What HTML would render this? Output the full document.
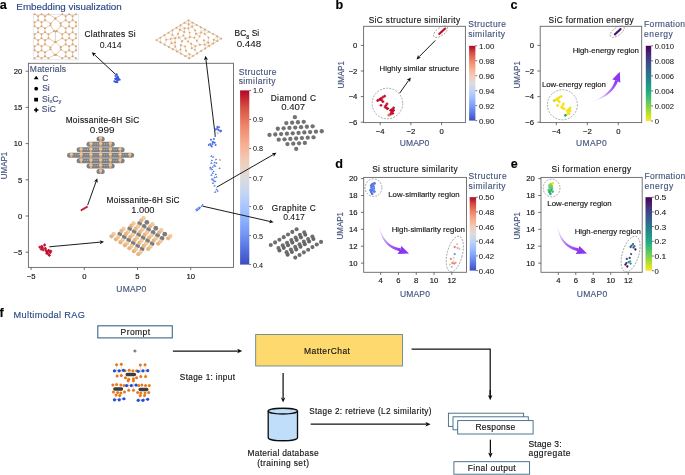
<!DOCTYPE html>
<html><head><meta charset="utf-8"><style>
html,body{margin:0;padding:0;background:#fff;width:685px;height:475px;overflow:hidden}
svg{display:block;opacity:0.999}
text{font-family:"Liberation Sans", sans-serif}
</style></head><body>
<svg width="685" height="475" viewBox="0 0 685 475" font-family='"Liberation Sans", sans-serif'><defs><linearGradient id="gcw" x1="0" y1="0" x2="0" y2="1"><stop offset="0.000" stop-color="#b40426"/><stop offset="0.100" stop-color="#d65244"/><stop offset="0.200" stop-color="#ee8468"/><stop offset="0.300" stop-color="#f7ac8e"/><stop offset="0.400" stop-color="#f2cbb7"/><stop offset="0.500" stop-color="#dddcdc"/><stop offset="0.600" stop-color="#c0d4f5"/><stop offset="0.700" stop-color="#9ebeff"/><stop offset="0.800" stop-color="#7b9ff9"/><stop offset="0.900" stop-color="#5977e3"/><stop offset="1.000" stop-color="#3b4cc0"/></linearGradient><linearGradient id="gvi" x1="0" y1="0" x2="0" y2="1"><stop offset="0.000" stop-color="#440154"/><stop offset="0.100" stop-color="#482475"/><stop offset="0.200" stop-color="#414487"/><stop offset="0.300" stop-color="#355f8d"/><stop offset="0.400" stop-color="#2a788e"/><stop offset="0.500" stop-color="#21918c"/><stop offset="0.600" stop-color="#22a884"/><stop offset="0.700" stop-color="#44bf70"/><stop offset="0.800" stop-color="#7ad151"/><stop offset="0.900" stop-color="#bddf26"/><stop offset="1.000" stop-color="#fde725"/></linearGradient>
<linearGradient id="gpa" gradientUnits="userSpaceOnUse" x1="592" y1="101" x2="616" y2="81"><stop offset="0" stop-color="#f3e8ff" stop-opacity="0.2"/><stop offset="0.5" stop-color="#c08cfa"/><stop offset="1" stop-color="#8c35f2"/></linearGradient>
<linearGradient id="gpd" gradientUnits="userSpaceOnUse" x1="379" y1="224" x2="400" y2="250"><stop offset="0" stop-color="#f3e8ff" stop-opacity="0.2"/><stop offset="0.5" stop-color="#c08cfa"/><stop offset="1" stop-color="#8c35f2"/></linearGradient>
<linearGradient id="gpe" gradientUnits="userSpaceOnUse" x1="557" y1="224" x2="578" y2="250"><stop offset="0" stop-color="#f3e8ff" stop-opacity="0.2"/><stop offset="0.5" stop-color="#c08cfa"/><stop offset="1" stop-color="#8c35f2"/></linearGradient>
<filter id="soft" x="0" y="0" width="685" height="475" filterUnits="userSpaceOnUse"><feGaussianBlur stdDeviation="0.22"/></filter></defs><rect width="685" height="475" fill="#fff"/><g filter="url(#soft)"><text x="-0.30" y="9.40" font-size="12.6" fill="#000" stroke="#000" stroke-width="0.14" text-anchor="start" font-weight="bold" >a</text>
<text x="16.35" y="9.50" font-size="9.8" fill="#2a4786" stroke="#2a4786" stroke-width="0.14" font-weight="normal" textLength="105.40" lengthAdjust="spacing" >Embedding visualization</text>
<rect x="28.4" y="63.3" width="205.1" height="204.09999999999997" fill="none" stroke="#666" stroke-width="0.9"/>
<line x1="31.10" y1="267.40" x2="31.10" y2="270.00" stroke="#444" stroke-width="0.75" />
<text x="31.10" y="278.50" font-size="7.7" fill="#111111" stroke="#111111" stroke-width="0.14" text-anchor="middle" font-weight="normal" >&#8722;5</text>
<line x1="84.30" y1="267.40" x2="84.30" y2="270.00" stroke="#444" stroke-width="0.75" />
<text x="84.30" y="278.50" font-size="7.7" fill="#111111" stroke="#111111" stroke-width="0.14" text-anchor="middle" font-weight="normal" >0</text>
<line x1="137.50" y1="267.40" x2="137.50" y2="270.00" stroke="#444" stroke-width="0.75" />
<text x="137.50" y="278.50" font-size="7.7" fill="#111111" stroke="#111111" stroke-width="0.14" text-anchor="middle" font-weight="normal" >5</text>
<line x1="190.70" y1="267.40" x2="190.70" y2="270.00" stroke="#444" stroke-width="0.75" />
<text x="190.70" y="278.50" font-size="7.7" fill="#111111" stroke="#111111" stroke-width="0.14" text-anchor="middle" font-weight="normal" >10</text>
<line x1="25.60" y1="71.20" x2="28.40" y2="71.20" stroke="#444" stroke-width="0.75" />
<text x="22.20" y="73.95" font-size="7.7" fill="#111111" stroke="#111111" stroke-width="0.14" text-anchor="end" font-weight="normal" >20</text>
<line x1="25.60" y1="107.40" x2="28.40" y2="107.40" stroke="#444" stroke-width="0.75" />
<text x="22.20" y="110.15" font-size="7.7" fill="#111111" stroke="#111111" stroke-width="0.14" text-anchor="end" font-weight="normal" >15</text>
<line x1="25.60" y1="143.60" x2="28.40" y2="143.60" stroke="#444" stroke-width="0.75" />
<text x="22.20" y="146.35" font-size="7.7" fill="#111111" stroke="#111111" stroke-width="0.14" text-anchor="end" font-weight="normal" >10</text>
<line x1="25.60" y1="179.80" x2="28.40" y2="179.80" stroke="#444" stroke-width="0.75" />
<text x="22.20" y="182.55" font-size="7.7" fill="#111111" stroke="#111111" stroke-width="0.14" text-anchor="end" font-weight="normal" >5</text>
<line x1="25.60" y1="216.00" x2="28.40" y2="216.00" stroke="#444" stroke-width="0.75" />
<text x="22.20" y="218.75" font-size="7.7" fill="#111111" stroke="#111111" stroke-width="0.14" text-anchor="end" font-weight="normal" >0</text>
<line x1="25.60" y1="252.20" x2="28.40" y2="252.20" stroke="#444" stroke-width="0.75" />
<text x="22.20" y="254.95" font-size="7.7" fill="#111111" stroke="#111111" stroke-width="0.14" text-anchor="end" font-weight="normal" >&#8722;5</text>
<text x="116.35" y="291.80" font-size="8.5" fill="#42527a" stroke="#42527a" stroke-width="0.14" font-weight="normal" textLength="29.90" lengthAdjust="spacing" >UMAP0</text>
<text x="0" y="0" font-size="8.5" fill="#42527a" stroke="#42527a" stroke-width="0.14" text-anchor="middle" textLength="27.4" lengthAdjust="spacingAndGlyphs" transform="translate(7.40,165.50) rotate(-90)">UMAP1</text>
<text x="29.85" y="71.80" font-size="8.5" fill="#42527a" stroke="#42527a" stroke-width="0.14" font-weight="normal" textLength="36.20" lengthAdjust="spacing" >Materials</text>
<polygon points="36.2,75.8 38.6,79.2 33.8,79.2" fill="#000"/>
<text x="42.20" y="80.50" font-size="8.5" fill="#42527a" stroke="#42527a" stroke-width="0.14" text-anchor="start" font-weight="normal" >C</text>
<circle cx="36.2" cy="88.7" r="1.9" fill="#000"/>
<text x="42.20" y="90.90" font-size="8.5" fill="#42527a" stroke="#42527a" stroke-width="0.14" text-anchor="start" font-weight="normal" >Si</text>
<rect x="34.2" y="97.8" width="3.8" height="3.7" fill="#000"/>
<text x="42.1" y="101.5" font-size="8.5" fill="#42527a" stroke="#42527a" stroke-width="0.14">S<tspan>i</tspan><tspan font-size="5.6" dy="1.9">x</tspan><tspan dy="-1.9" dx="-0.2">C</tspan><tspan font-size="5.6" dy="1.9">y</tspan></text>
<path d="M34,110h4.4M36.2,107.8v4.4" stroke="#000" stroke-width="1.5"/>
<text x="41.85" y="112.40" font-size="8.5" fill="#42527a" stroke="#42527a" stroke-width="0.14" font-weight="normal" textLength="14.10" lengthAdjust="spacing" >SiC</text>
<rect x="240.1" y="90.4" width="9.2" height="174.20000000000002" fill="url(#gcw)"/>
<line x1="249.30" y1="90.40" x2="251.10" y2="90.40" stroke="#333" stroke-width="0.7" />
<text x="252.95" y="93.40" font-size="7.4" fill="#111111" stroke="#111111" stroke-width="0.04" font-weight="normal" textLength="10.10" lengthAdjust="spacingAndGlyphs" >1.0</text>
<line x1="249.30" y1="119.43" x2="251.10" y2="119.43" stroke="#333" stroke-width="0.7" />
<text x="252.95" y="122.43" font-size="7.4" fill="#111111" stroke="#111111" stroke-width="0.04" font-weight="normal" textLength="10.10" lengthAdjust="spacingAndGlyphs" >0.9</text>
<line x1="249.30" y1="148.47" x2="251.10" y2="148.47" stroke="#333" stroke-width="0.7" />
<text x="252.95" y="151.47" font-size="7.4" fill="#111111" stroke="#111111" stroke-width="0.04" font-weight="normal" textLength="10.10" lengthAdjust="spacingAndGlyphs" >0.8</text>
<line x1="249.30" y1="177.50" x2="251.10" y2="177.50" stroke="#333" stroke-width="0.7" />
<text x="252.95" y="180.50" font-size="7.4" fill="#111111" stroke="#111111" stroke-width="0.04" font-weight="normal" textLength="10.10" lengthAdjust="spacingAndGlyphs" >0.7</text>
<line x1="249.30" y1="206.53" x2="251.10" y2="206.53" stroke="#333" stroke-width="0.7" />
<text x="252.95" y="209.53" font-size="7.4" fill="#111111" stroke="#111111" stroke-width="0.04" font-weight="normal" textLength="10.10" lengthAdjust="spacingAndGlyphs" >0.6</text>
<line x1="249.30" y1="235.57" x2="251.10" y2="235.57" stroke="#333" stroke-width="0.7" />
<text x="252.95" y="238.57" font-size="7.4" fill="#111111" stroke="#111111" stroke-width="0.04" font-weight="normal" textLength="10.10" lengthAdjust="spacingAndGlyphs" >0.5</text>
<line x1="249.30" y1="264.60" x2="251.10" y2="264.60" stroke="#333" stroke-width="0.7" />
<text x="252.95" y="267.60" font-size="7.4" fill="#111111" stroke="#111111" stroke-width="0.04" font-weight="normal" textLength="10.10" lengthAdjust="spacingAndGlyphs" >0.4</text>
<text x="238.65" y="75.00" font-size="8.5" fill="#42527a" stroke="#42527a" stroke-width="0.14" font-weight="normal" textLength="37.90" lengthAdjust="spacing" >Structure</text>
<text x="238.65" y="84.00" font-size="8.5" fill="#42527a" stroke="#42527a" stroke-width="0.14" font-weight="normal" textLength="36.80" lengthAdjust="spacing" >similarity</text>
<text x="84.45" y="37.20" font-size="8.3" fill="#111111" stroke="#111111" stroke-width="0.14" font-weight="normal" textLength="51.20" lengthAdjust="spacing" >Clathrates Si</text>
<text x="99.65" y="48.00" font-size="8.7" fill="#111111" stroke="#111111" stroke-width="0.04" font-weight="normal" textLength="21.90" lengthAdjust="spacingAndGlyphs" >0.414</text>
<text x="234.6" y="36.3" font-size="8.4" textLength="24.6" lengthAdjust="spacing" fill="#111111" stroke="#111111" stroke-width="0.14">BC<tspan font-size="5.4" dy="2.2">8</tspan><tspan dy="-2.2"> Si</tspan></text>
<text x="236.65" y="47.20" font-size="8.7" fill="#111111" stroke="#111111" stroke-width="0.04" font-weight="normal" textLength="24.60" lengthAdjust="spacingAndGlyphs" >0.448</text>
<text x="65.65" y="122.60" font-size="8.3" fill="#111111" stroke="#111111" stroke-width="0.14" font-weight="normal" textLength="73.50" lengthAdjust="spacing" >Moissanite-6H SiC</text>
<text x="89.75" y="132.70" font-size="8.7" fill="#111111" stroke="#111111" stroke-width="0.04" font-weight="normal" textLength="24.80" lengthAdjust="spacingAndGlyphs" >0.999</text>
<text x="106.45" y="203.20" font-size="8.3" fill="#111111" stroke="#111111" stroke-width="0.14" font-weight="normal" textLength="73.10" lengthAdjust="spacing" >Moissanite-6H SiC</text>
<text x="131.25" y="213.40" font-size="8.7" fill="#111111" stroke="#111111" stroke-width="0.04" font-weight="normal" textLength="23.30" lengthAdjust="spacingAndGlyphs" >1.000</text>
<text x="270.65" y="100.80" font-size="8.3" fill="#111111" stroke="#111111" stroke-width="0.14" font-weight="normal" textLength="45.30" lengthAdjust="spacing" >Diamond C</text>
<text x="281.15" y="110.10" font-size="8.7" fill="#111111" stroke="#111111" stroke-width="0.04" font-weight="normal" textLength="24.10" lengthAdjust="spacingAndGlyphs" >0.407</text>
<text x="271.85" y="210.70" font-size="8.3" fill="#111111" stroke="#111111" stroke-width="0.14" font-weight="normal" textLength="43.90" lengthAdjust="spacing" >Graphite C</text>
<text x="283.15" y="219.80" font-size="8.7" fill="#111111" stroke="#111111" stroke-width="0.04" font-weight="normal" textLength="21.60" lengthAdjust="spacingAndGlyphs" >0.417</text>
<line x1="115.80" y1="74.60" x2="94.50" y2="54.72" stroke="#111" stroke-width="0.95" />
<polygon points="91.80,52.20 96.24,53.60 94.29,54.52 93.51,56.53" fill="#111"/>
<line x1="215.20" y1="135.20" x2="205.95" y2="59.47" stroke="#111" stroke-width="0.95" />
<polygon points="205.50,55.80 207.99,59.73 205.91,59.17 204.02,60.21" fill="#111"/>
<line x1="216.70" y1="187.20" x2="273.19" y2="154.65" stroke="#111" stroke-width="0.95" />
<polygon points="276.40,152.80 273.76,156.63 273.45,154.50 271.76,153.16" fill="#111"/>
<line x1="202.80" y1="206.20" x2="269.99" y2="221.48" stroke="#111" stroke-width="0.95" />
<polygon points="273.60,222.30 269.06,223.32 270.28,221.55 269.95,219.42" fill="#111"/>
<line x1="87.60" y1="205.30" x2="96.05" y2="181.68" stroke="#111" stroke-width="0.95" />
<polygon points="97.30,178.20 97.77,182.83 96.15,181.40 94.00,181.48" fill="#111"/>
<line x1="49.30" y1="246.80" x2="100.32" y2="242.14" stroke="#111" stroke-width="0.95" />
<polygon points="104.00,241.80 100.00,244.17 100.61,242.11 99.64,240.19" fill="#111"/>
<circle cx="117.32" cy="82.28" r="1.0" fill="#3a5bd5"/>
<circle cx="115.99" cy="81.68" r="1.0" fill="#3a5bd5"/>
<circle cx="116.86" cy="78.80" r="1.0" fill="#3a5bd5"/>
<circle cx="119.67" cy="79.76" r="1.0" fill="#3a5bd5"/>
<circle cx="117.14" cy="81.08" r="1.0" fill="#3a5bd5"/>
<circle cx="118.66" cy="79.33" r="1.0" fill="#3a5bd5"/>
<circle cx="117.96" cy="77.16" r="1.0" fill="#3a5bd5"/>
<circle cx="116.72" cy="78.39" r="1.0" fill="#3a5bd5"/>
<circle cx="115.47" cy="75.93" r="1.0" fill="#3a5bd5"/>
<circle cx="115.09" cy="78.85" r="1.0" fill="#3a5bd5"/>
<circle cx="116.98" cy="78.66" r="1.0" fill="#3a5bd5"/>
<circle cx="117.29" cy="76.33" r="1.0" fill="#3a5bd5"/>
<circle cx="117.10" cy="79.95" r="1.0" fill="#3a5bd5"/>
<circle cx="118.18" cy="77.45" r="1.0" fill="#3a5bd5"/>
<circle cx="116.68" cy="74.77" r="1.0" fill="#3a5bd5"/>
<circle cx="116.55" cy="74.35" r="1.0" fill="#3a5bd5"/>
<circle cx="115.35" cy="81.93" r="1.0" fill="#3a5bd5"/>
<circle cx="114.34" cy="81.24" r="1.0" fill="#3a5bd5"/>
<circle cx="117.63" cy="78.68" r="1.0" fill="#3a5bd5"/>
<circle cx="117.80" cy="80.61" r="1.0" fill="#3a5bd5"/>
<circle cx="118.56" cy="78.87" r="1.0" fill="#3a5bd5"/>
<circle cx="116.43" cy="78.01" r="1.0" fill="#3a5bd5"/>
<circle cx="115.92" cy="79.30" r="1.0" fill="#3a5bd5"/>
<circle cx="116.18" cy="81.86" r="1.0" fill="#3a5bd5"/>
<circle cx="219.00" cy="127.20" r="1.0" fill="#4a6fe3"/>
<circle cx="217.30" cy="128.00" r="1.0" fill="#4a6fe3"/>
<circle cx="216.00" cy="129.30" r="1.0" fill="#4a6fe3"/>
<circle cx="218.10" cy="129.70" r="1.0" fill="#4a6fe3"/>
<circle cx="220.60" cy="131.40" r="1.0" fill="#4a6fe3"/>
<circle cx="219.40" cy="130.50" r="1.0" fill="#4a6fe3"/>
<circle cx="215.20" cy="129.70" r="1.0" fill="#4a6fe3"/>
<circle cx="217.50" cy="126.80" r="1.0" fill="#4a6fe3"/>
<circle cx="221.00" cy="130.80" r="1.0" fill="#4a6fe3"/>
<circle cx="215.20" cy="136.00" r="1.0" fill="#4a6fe3"/>
<circle cx="211.00" cy="139.80" r="1.0" fill="#4a6fe3"/>
<circle cx="213.90" cy="139.00" r="1.0" fill="#4a6fe3"/>
<circle cx="213.50" cy="142.30" r="1.0" fill="#4a6fe3"/>
<circle cx="214.70" cy="142.70" r="1.0" fill="#4a6fe3"/>
<circle cx="210.10" cy="144.00" r="1.0" fill="#4a6fe3"/>
<circle cx="208.80" cy="144.90" r="1.0" fill="#4a6fe3"/>
<circle cx="215.60" cy="144.90" r="1.0" fill="#4a6fe3"/>
<circle cx="211.80" cy="146.50" r="1.0" fill="#4a6fe3"/>
<circle cx="212.60" cy="141.90" r="1.0" fill="#4a6fe3"/>
<circle cx="211.00" cy="145.50" r="1.0" fill="#4a6fe3"/>
<circle cx="212.50" cy="144.00" r="1.0" fill="#4a6fe3"/>
<path d="M210.10,157.10L212.70,156.40L211.30,155.10Z" fill="#4a6fe3"/>
<path d="M211.90,158.00L214.50,157.30L213.10,156.00Z" fill="#4a6fe3"/>
<path d="M210.10,164.10L212.70,163.40L211.30,162.10Z" fill="#4a6fe3"/>
<path d="M213.30,163.50L215.90,162.80L214.50,161.50Z" fill="#4a6fe3"/>
<path d="M215.20,164.10L217.80,163.40L216.40,162.10Z" fill="#4a6fe3"/>
<path d="M208.90,168.50L211.50,167.80L210.10,166.50Z" fill="#4a6fe3"/>
<path d="M211.40,167.90L214.00,167.20L212.60,165.90Z" fill="#4a6fe3"/>
<path d="M213.90,167.30L216.50,166.60L215.10,165.30Z" fill="#4a6fe3"/>
<path d="M210.70,170.40L213.30,169.70L211.90,168.40Z" fill="#4a6fe3"/>
<path d="M218.30,169.20L220.90,168.50L219.50,167.20Z" fill="#4a6fe3"/>
<path d="M209.50,169.80L212.10,169.10L210.70,167.80Z" fill="#4a6fe3"/>
<path d="M211.40,174.20L214.00,173.50L212.60,172.20Z" fill="#4a6fe3"/>
<path d="M210.70,179.90L213.30,179.20L211.90,177.90Z" fill="#4a6fe3"/>
<path d="M213.30,178.60L215.90,177.90L214.50,176.60Z" fill="#4a6fe3"/>
<path d="M215.20,178.00L217.80,177.30L216.40,176.00Z" fill="#4a6fe3"/>
<path d="M212.60,181.80L215.20,181.10L213.80,179.80Z" fill="#4a6fe3"/>
<path d="M213.90,182.40L216.50,181.70L215.10,180.40Z" fill="#4a6fe3"/>
<path d="M211.50,180.70L214.10,180.00L212.70,178.70Z" fill="#4a6fe3"/>
<path d="M213.30,186.80L215.90,186.10L214.50,184.80Z" fill="#4a6fe3"/>
<path d="M215.20,190.60L217.80,189.90L216.40,188.60Z" fill="#4a6fe3"/>
<path d="M216.40,191.90L219.00,191.20L217.60,189.90Z" fill="#4a6fe3"/>
<path d="M213.90,193.10L216.50,192.40L215.10,191.10Z" fill="#4a6fe3"/>
<path d="M212.20,172.40L214.80,171.70L213.40,170.40Z" fill="#4a6fe3"/>
<path d="M210.20,176.10L212.80,175.40L211.40,174.10Z" fill="#4a6fe3"/>
<path d="M214.50,175.40L217.10,174.70L215.70,173.40Z" fill="#4a6fe3"/>
<path d="M211.70,184.10L214.30,183.40L212.90,182.10Z" fill="#4a6fe3"/>
<path d="M214.70,160.40L217.30,159.70L215.90,158.40Z" fill="#4a6fe3"/>
<path d="M210.50,161.40L213.10,160.70L211.70,159.40Z" fill="#4a6fe3"/>
<path d="M212.90,166.10L215.50,165.40L214.10,164.10Z" fill="#4a6fe3"/>
<path d="M195.00,210.20L197.60,209.50L196.20,208.20Z" fill="#4a6fe3"/>
<path d="M196.90,208.90L199.50,208.20L198.10,206.90Z" fill="#4a6fe3"/>
<path d="M198.70,208.30L201.30,207.60L199.90,206.30Z" fill="#4a6fe3"/>
<path d="M200.60,207.00L203.20,206.30L201.80,205.00Z" fill="#4a6fe3"/>
<path d="M201.30,205.80L203.90,205.10L202.50,203.80Z" fill="#4a6fe3"/>
<path d="M195.60,211.50L198.20,210.80L196.80,209.50Z" fill="#4a6fe3"/>
<path d="M198.10,209.60L200.70,208.90L199.30,207.60Z" fill="#4a6fe3"/>
<path d="M196.70,210.70L199.30,210.00L197.90,208.70Z" fill="#4a6fe3"/>
<path d="M216.5,133.1h2.6M217.8,131.9v2.4" stroke="#f4b79a" stroke-width="0.9"/>
<path d="M219.2,159.2l1.4,0.8M219.4,160.5l1.6,-0.6" stroke="#ef8a62" stroke-width="0.9"/>
<circle cx="81.60" cy="210.10" r="1.05" fill="#c3112d"/>
<circle cx="82.90" cy="209.30" r="1.05" fill="#c3112d"/>
<circle cx="84.20" cy="208.50" r="1.05" fill="#c3112d"/>
<circle cx="85.50" cy="207.80" r="1.05" fill="#c3112d"/>
<circle cx="86.80" cy="207.10" r="1.05" fill="#c3112d"/>
<path d="M38.40,247.10h2.8M39.80,245.70v2.8" stroke="#c3112d" stroke-width="1.3"/>
<path d="M40.40,246.40h2.8M41.80,245.00v2.8" stroke="#c3112d" stroke-width="1.3"/>
<path d="M43.20,245.00h2.8M44.60,243.60v2.8" stroke="#c3112d" stroke-width="1.3"/>
<path d="M39.80,249.10h2.8M41.20,247.70v2.8" stroke="#c3112d" stroke-width="1.3"/>
<path d="M41.80,249.80h2.8M43.20,248.40v2.8" stroke="#c3112d" stroke-width="1.3"/>
<path d="M43.90,248.40h2.8M45.30,247.00v2.8" stroke="#c3112d" stroke-width="1.3"/>
<path d="M44.60,250.50h2.8M46.00,249.10v2.8" stroke="#c3112d" stroke-width="1.3"/>
<path d="M45.90,251.80h2.8M47.30,250.40v2.8" stroke="#c3112d" stroke-width="1.3"/>
<path d="M47.30,250.50h2.8M48.70,249.10v2.8" stroke="#c3112d" stroke-width="1.3"/>
<path d="M48.70,252.50h2.8M50.10,251.10v2.8" stroke="#c3112d" stroke-width="1.3"/>
<path d="M46.60,253.90h2.8M48.00,252.50v2.8" stroke="#c3112d" stroke-width="1.3"/>
<path d="M48.00,255.30h2.8M49.40,253.90v2.8" stroke="#c3112d" stroke-width="1.3"/>
<path d="M45.20,253.20h2.8M46.60,251.80v2.8" stroke="#c3112d" stroke-width="1.3"/>
<path d="M49.40,251.20h2.8M50.80,249.80v2.8" stroke="#c3112d" stroke-width="1.3"/>
<path d="M41.10,247.80h2.8M42.50,246.40v2.8" stroke="#c3112d" stroke-width="1.3"/>
<text x="335.60" y="9.30" font-size="12.6" fill="#000" stroke="#000" stroke-width="0.14" text-anchor="start" font-weight="bold" >b</text>
<text x="368.65" y="22.50" font-size="8.3" fill="#111111" stroke="#111111" stroke-width="0.14" font-weight="normal" textLength="91.40" lengthAdjust="spacing" >SiC structure similarity</text>
<rect x="363.6" y="26.3" width="101.79999999999995" height="96.3" fill="none" stroke="#666" stroke-width="0.9"/>
<line x1="380.20" y1="122.60" x2="380.20" y2="125.20" stroke="#444" stroke-width="0.75" />
<text x="380.20" y="133.70" font-size="7.7" fill="#111111" stroke="#111111" stroke-width="0.14" text-anchor="middle" font-weight="normal" >&#8722;4</text>
<line x1="410.90" y1="122.60" x2="410.90" y2="125.20" stroke="#444" stroke-width="0.75" />
<text x="410.90" y="133.70" font-size="7.7" fill="#111111" stroke="#111111" stroke-width="0.14" text-anchor="middle" font-weight="normal" >&#8722;2</text>
<line x1="441.60" y1="122.60" x2="441.60" y2="125.20" stroke="#444" stroke-width="0.75" />
<text x="441.60" y="133.70" font-size="7.7" fill="#111111" stroke="#111111" stroke-width="0.14" text-anchor="middle" font-weight="normal" >0</text>
<line x1="360.80" y1="45.40" x2="363.60" y2="45.40" stroke="#444" stroke-width="0.75" />
<text x="357.40" y="48.15" font-size="7.7" fill="#111111" stroke="#111111" stroke-width="0.14" text-anchor="end" font-weight="normal" >0</text>
<line x1="360.80" y1="71.00" x2="363.60" y2="71.00" stroke="#444" stroke-width="0.75" />
<text x="357.40" y="73.75" font-size="7.7" fill="#111111" stroke="#111111" stroke-width="0.14" text-anchor="end" font-weight="normal" >&#8722;2</text>
<line x1="360.80" y1="96.60" x2="363.60" y2="96.60" stroke="#444" stroke-width="0.75" />
<text x="357.40" y="99.35" font-size="7.7" fill="#111111" stroke="#111111" stroke-width="0.14" text-anchor="end" font-weight="normal" >&#8722;4</text>
<line x1="360.80" y1="122.20" x2="363.60" y2="122.20" stroke="#444" stroke-width="0.75" />
<text x="357.40" y="124.95" font-size="7.7" fill="#111111" stroke="#111111" stroke-width="0.14" text-anchor="end" font-weight="normal" >&#8722;6</text>
<text x="399.75" y="146.20" font-size="8.5" fill="#42527a" stroke="#42527a" stroke-width="0.14" font-weight="normal" textLength="29.60" lengthAdjust="spacing" >UMAP0</text>
<text x="0" y="0" font-size="8.5" fill="#42527a" stroke="#42527a" stroke-width="0.14" text-anchor="middle" textLength="27.4" lengthAdjust="spacingAndGlyphs" transform="translate(343.50,74.90) rotate(-90)">UMAP1</text>
<rect x="469.1" y="45.8" width="6.3" height="74.8" fill="url(#gcw)"/>
<line x1="475.40" y1="45.80" x2="477.20" y2="45.80" stroke="#333" stroke-width="0.7" />
<text x="478.95" y="48.80" font-size="7.4" fill="#111111" stroke="#111111" stroke-width="0.04" font-weight="normal" textLength="15.40" lengthAdjust="spacingAndGlyphs" >1.00</text>
<line x1="475.40" y1="60.76" x2="477.20" y2="60.76" stroke="#333" stroke-width="0.7" />
<text x="478.95" y="63.76" font-size="7.4" fill="#111111" stroke="#111111" stroke-width="0.04" font-weight="normal" textLength="15.40" lengthAdjust="spacingAndGlyphs" >0.98</text>
<line x1="475.40" y1="75.72" x2="477.20" y2="75.72" stroke="#333" stroke-width="0.7" />
<text x="478.95" y="78.72" font-size="7.4" fill="#111111" stroke="#111111" stroke-width="0.04" font-weight="normal" textLength="15.40" lengthAdjust="spacingAndGlyphs" >0.96</text>
<line x1="475.40" y1="90.68" x2="477.20" y2="90.68" stroke="#333" stroke-width="0.7" />
<text x="478.95" y="93.68" font-size="7.4" fill="#111111" stroke="#111111" stroke-width="0.04" font-weight="normal" textLength="15.40" lengthAdjust="spacingAndGlyphs" >0.94</text>
<line x1="475.40" y1="105.64" x2="477.20" y2="105.64" stroke="#333" stroke-width="0.7" />
<text x="478.95" y="108.64" font-size="7.4" fill="#111111" stroke="#111111" stroke-width="0.04" font-weight="normal" textLength="15.40" lengthAdjust="spacingAndGlyphs" >0.92</text>
<line x1="475.40" y1="120.60" x2="477.20" y2="120.60" stroke="#333" stroke-width="0.7" />
<text x="478.95" y="123.60" font-size="7.4" fill="#111111" stroke="#111111" stroke-width="0.04" font-weight="normal" textLength="15.40" lengthAdjust="spacingAndGlyphs" >0.90</text>
<text x="468.15" y="27.20" font-size="8.5" fill="#42527a" stroke="#42527a" stroke-width="0.14" font-weight="normal" textLength="37.90" lengthAdjust="spacing" >Structure</text>
<text x="468.15" y="36.50" font-size="8.5" fill="#42527a" stroke="#42527a" stroke-width="0.14" font-weight="normal" textLength="36.80" lengthAdjust="spacing" >similarity</text>
<text x="379.45" y="71.40" font-size="7.8" fill="#111111" stroke="#111111" stroke-width="0.14" font-weight="normal" textLength="79.90" lengthAdjust="spacing" >Highly similar structure</text>
<ellipse cx="440.6" cy="31.7" rx="8.2" ry="3.9" transform="rotate(-36 440.6 31.7)" fill="none" stroke="#8a8a8a" stroke-width="0.75" stroke-dasharray="1.9,1.3"/>
<circle cx="387.4" cy="103.5" r="15.3" fill="none" stroke="#8a8a8a" stroke-width="0.75" stroke-dasharray="1.9,1.3"/>
<line x1="435.40" y1="40.40" x2="419.11" y2="56.78" stroke="#111" stroke-width="0.95" />
<polygon points="416.50,59.40 418.04,55.01 418.90,56.99 420.88,57.83" fill="#111"/>
<line x1="399.70" y1="93.10" x2="408.66" y2="80.42" stroke="#111" stroke-width="0.95" />
<polygon points="410.80,77.40 410.01,81.98 408.84,80.18 406.74,79.67" fill="#111"/>
<circle cx="439.30" cy="33.90" r="1.1" fill="#c3112d"/>
<circle cx="440.04" cy="33.23" r="1.1" fill="#c3112d"/>
<circle cx="440.78" cy="32.55" r="1.1" fill="#c3112d"/>
<circle cx="441.51" cy="31.88" r="1.1" fill="#c3112d"/>
<circle cx="442.25" cy="31.20" r="1.1" fill="#c3112d"/>
<circle cx="442.99" cy="30.52" r="1.1" fill="#c3112d"/>
<circle cx="443.73" cy="29.85" r="1.1" fill="#c3112d"/>
<circle cx="444.46" cy="29.17" r="1.1" fill="#c3112d"/>
<circle cx="445.20" cy="28.50" r="1.1" fill="#c3112d"/>
<path d="M383.30,96.10h2.8M384.70,94.70v2.8" stroke="#c3112d" stroke-width="1.3"/>
<path d="M381.50,97.20h2.8M382.90,95.80v2.8" stroke="#c3112d" stroke-width="1.3"/>
<path d="M379.60,98.30h2.8M381.00,96.90v2.8" stroke="#c3112d" stroke-width="1.3"/>
<path d="M378.20,99.40h2.8M379.60,98.00v2.8" stroke="#c3112d" stroke-width="1.3"/>
<path d="M376.30,100.50h2.8M377.70,99.10v2.8" stroke="#c3112d" stroke-width="1.3"/>
<path d="M380.40,100.10h2.8M381.80,98.70v2.8" stroke="#c3112d" stroke-width="1.3"/>
<path d="M381.50,101.60h2.8M382.90,100.20v2.8" stroke="#c3112d" stroke-width="1.3"/>
<path d="M379.10,99.60h2.8M380.50,98.20v2.8" stroke="#c3112d" stroke-width="1.3"/>
<path d="M379.60,105.30h2.8M381.00,103.90v2.8" stroke="#c3112d" stroke-width="1.3"/>
<path d="M385.60,103.80h2.8M387.00,102.40v2.8" stroke="#c3112d" stroke-width="1.3"/>
<path d="M384.40,105.60h2.8M385.80,104.20v2.8" stroke="#c3112d" stroke-width="1.3"/>
<path d="M383.70,107.10h2.8M385.10,105.70v2.8" stroke="#c3112d" stroke-width="1.3"/>
<path d="M385.20,108.20h2.8M386.60,106.80v2.8" stroke="#c3112d" stroke-width="1.3"/>
<path d="M386.30,108.60h2.8M387.70,107.20v2.8" stroke="#c3112d" stroke-width="1.3"/>
<path d="M392.20,107.80h2.8M393.60,106.40v2.8" stroke="#c3112d" stroke-width="1.3"/>
<path d="M390.70,109.30h2.8M392.10,107.90v2.8" stroke="#c3112d" stroke-width="1.3"/>
<path d="M389.20,110.40h2.8M390.60,109.00v2.8" stroke="#c3112d" stroke-width="1.3"/>
<path d="M392.20,110.40h2.8M393.60,109.00v2.8" stroke="#c3112d" stroke-width="1.3"/>
<path d="M390.30,112.30h2.8M391.70,110.90v2.8" stroke="#c3112d" stroke-width="1.3"/>
<path d="M391.40,113.40h2.8M392.80,112.00v2.8" stroke="#c3112d" stroke-width="1.3"/>
<path d="M389.20,114.10h2.8M390.60,112.70v2.8" stroke="#c3112d" stroke-width="1.3"/>
<path d="M391.10,111.00h2.8M392.50,109.60v2.8" stroke="#c3112d" stroke-width="1.3"/>
<path d="M387.40,115.20h2.8M388.80,113.80v2.8" stroke="#e0603a" stroke-width="1.3"/>
<text x="510.40" y="9.40" font-size="12.6" fill="#000" stroke="#000" stroke-width="0.14" text-anchor="start" font-weight="bold" >c</text>
<text x="548.55" y="22.60" font-size="8.3" fill="#111111" stroke="#111111" stroke-width="0.14" font-weight="normal" textLength="85.00" lengthAdjust="spacing" >SiC formation energy</text>
<rect x="540.2" y="26.3" width="101.5" height="96.3" fill="none" stroke="#666" stroke-width="0.9"/>
<line x1="556.30" y1="122.60" x2="556.30" y2="125.20" stroke="#444" stroke-width="0.75" />
<text x="556.30" y="133.70" font-size="7.7" fill="#111111" stroke="#111111" stroke-width="0.14" text-anchor="middle" font-weight="normal" >&#8722;4</text>
<line x1="587.30" y1="122.60" x2="587.30" y2="125.20" stroke="#444" stroke-width="0.75" />
<text x="587.30" y="133.70" font-size="7.7" fill="#111111" stroke="#111111" stroke-width="0.14" text-anchor="middle" font-weight="normal" >&#8722;2</text>
<line x1="618.30" y1="122.60" x2="618.30" y2="125.20" stroke="#444" stroke-width="0.75" />
<text x="618.30" y="133.70" font-size="7.7" fill="#111111" stroke="#111111" stroke-width="0.14" text-anchor="middle" font-weight="normal" >0</text>
<line x1="537.40" y1="45.40" x2="540.20" y2="45.40" stroke="#444" stroke-width="0.75" />
<text x="534.00" y="48.15" font-size="7.7" fill="#111111" stroke="#111111" stroke-width="0.14" text-anchor="end" font-weight="normal" >0</text>
<line x1="537.40" y1="71.00" x2="540.20" y2="71.00" stroke="#444" stroke-width="0.75" />
<text x="534.00" y="73.75" font-size="7.7" fill="#111111" stroke="#111111" stroke-width="0.14" text-anchor="end" font-weight="normal" >&#8722;2</text>
<line x1="537.40" y1="96.60" x2="540.20" y2="96.60" stroke="#444" stroke-width="0.75" />
<text x="534.00" y="99.35" font-size="7.7" fill="#111111" stroke="#111111" stroke-width="0.14" text-anchor="end" font-weight="normal" >&#8722;4</text>
<line x1="537.40" y1="122.20" x2="540.20" y2="122.20" stroke="#444" stroke-width="0.75" />
<text x="534.00" y="124.95" font-size="7.7" fill="#111111" stroke="#111111" stroke-width="0.14" text-anchor="end" font-weight="normal" >&#8722;6</text>
<text x="575.95" y="146.40" font-size="8.5" fill="#42527a" stroke="#42527a" stroke-width="0.14" font-weight="normal" textLength="30.70" lengthAdjust="spacing" >UMAP0</text>
<text x="0" y="0" font-size="8.5" fill="#42527a" stroke="#42527a" stroke-width="0.14" text-anchor="middle" textLength="27.4" lengthAdjust="spacingAndGlyphs" transform="translate(519.60,74.90) rotate(-90)">UMAP1</text>
<rect x="645.8" y="45.8" width="5.4" height="75.2" fill="url(#gvi)"/>
<line x1="651.20" y1="45.80" x2="653.00" y2="45.80" stroke="#333" stroke-width="0.7" />
<text x="654.85" y="48.80" font-size="7.4" fill="#111111" stroke="#111111" stroke-width="0.04" font-weight="normal" textLength="19.07" lengthAdjust="spacingAndGlyphs" >0.010</text>
<line x1="651.20" y1="60.84" x2="653.00" y2="60.84" stroke="#333" stroke-width="0.7" />
<text x="654.85" y="63.84" font-size="7.4" fill="#111111" stroke="#111111" stroke-width="0.04" font-weight="normal" textLength="19.07" lengthAdjust="spacingAndGlyphs" >0.008</text>
<line x1="651.20" y1="75.88" x2="653.00" y2="75.88" stroke="#333" stroke-width="0.7" />
<text x="654.85" y="78.88" font-size="7.4" fill="#111111" stroke="#111111" stroke-width="0.04" font-weight="normal" textLength="19.07" lengthAdjust="spacingAndGlyphs" >0.006</text>
<line x1="651.20" y1="90.92" x2="653.00" y2="90.92" stroke="#333" stroke-width="0.7" />
<text x="654.85" y="93.92" font-size="7.4" fill="#111111" stroke="#111111" stroke-width="0.04" font-weight="normal" textLength="19.07" lengthAdjust="spacingAndGlyphs" >0.004</text>
<line x1="651.20" y1="105.96" x2="653.00" y2="105.96" stroke="#333" stroke-width="0.7" />
<text x="654.85" y="108.96" font-size="7.4" fill="#111111" stroke="#111111" stroke-width="0.04" font-weight="normal" textLength="19.07" lengthAdjust="spacingAndGlyphs" >0.002</text>
<line x1="651.20" y1="121.00" x2="653.00" y2="121.00" stroke="#333" stroke-width="0.7" />
<text x="654.85" y="124.00" font-size="7.4" fill="#111111" stroke="#111111" stroke-width="0.04" font-weight="normal" textLength="4.30" lengthAdjust="spacingAndGlyphs" >0</text>
<text x="644.05" y="27.20" font-size="8.5" fill="#42527a" stroke="#42527a" stroke-width="0.14" font-weight="normal" textLength="41.00" lengthAdjust="spacing" >Formation</text>
<text x="644.05" y="36.50" font-size="8.5" fill="#42527a" stroke="#42527a" stroke-width="0.14" font-weight="normal" textLength="28.80" lengthAdjust="spacing" >energy</text>
<text x="572.65" y="53.40" font-size="7.8" fill="#111111" stroke="#111111" stroke-width="0.14" font-weight="normal" textLength="66.20" lengthAdjust="spacing" >High-energy region</text>
<text x="541.95" y="87.20" font-size="7.8" fill="#111111" stroke="#111111" stroke-width="0.14" font-weight="normal" textLength="63.90" lengthAdjust="spacing" >Low-energy region</text>
<ellipse cx="617.2" cy="31.6" rx="8.2" ry="3.9" transform="rotate(-36 617.2 31.6)" fill="none" stroke="#8a8a8a" stroke-width="0.75" stroke-dasharray="1.9,1.3"/>
<circle cx="562.4" cy="104.8" r="15.0" fill="none" stroke="#8a8a8a" stroke-width="0.75" stroke-dasharray="1.9,1.3"/>
<circle cx="614.90" cy="34.40" r="1.1" fill="#46186e"/>
<circle cx="615.60" cy="33.75" r="1.1" fill="#46186e"/>
<circle cx="616.30" cy="33.10" r="1.1" fill="#46186e"/>
<circle cx="617.00" cy="32.45" r="1.1" fill="#46186e"/>
<circle cx="617.70" cy="31.80" r="1.1" fill="#46186e"/>
<circle cx="618.40" cy="31.15" r="1.1" fill="#46186e"/>
<circle cx="619.10" cy="30.50" r="1.1" fill="#46186e"/>
<circle cx="619.80" cy="29.85" r="1.1" fill="#46186e"/>
<circle cx="620.50" cy="29.20" r="1.1" fill="#46186e"/>
<path d="M559.80,96.30h2.8M561.20,94.90v2.8" stroke="#f5e21f" stroke-width="1.3"/>
<path d="M558.00,97.40h2.8M559.40,96.00v2.8" stroke="#f5e21f" stroke-width="1.3"/>
<path d="M556.10,98.50h2.8M557.50,97.10v2.8" stroke="#f5e21f" stroke-width="1.3"/>
<path d="M554.70,99.60h2.8M556.10,98.20v2.8" stroke="#f5e21f" stroke-width="1.3"/>
<path d="M552.80,100.70h2.8M554.20,99.30v2.8" stroke="#b5de2b" stroke-width="1.3"/>
<path d="M556.90,100.30h2.8M558.30,98.90v2.8" stroke="#f5e21f" stroke-width="1.3"/>
<path d="M558.00,101.80h2.8M559.40,100.40v2.8" stroke="#f5e21f" stroke-width="1.3"/>
<path d="M555.60,99.80h2.8M557.00,98.40v2.8" stroke="#f5e21f" stroke-width="1.3"/>
<path d="M556.10,105.50h2.8M557.50,104.10v2.8" stroke="#f5e21f" stroke-width="1.3"/>
<path d="M562.10,104.00h2.8M563.50,102.60v2.8" stroke="#f5e21f" stroke-width="1.3"/>
<path d="M560.90,105.80h2.8M562.30,104.40v2.8" stroke="#f5e21f" stroke-width="1.3"/>
<path d="M560.20,107.30h2.8M561.60,105.90v2.8" stroke="#f5e21f" stroke-width="1.3"/>
<path d="M561.70,108.40h2.8M563.10,107.00v2.8" stroke="#f5e21f" stroke-width="1.3"/>
<path d="M562.80,108.80h2.8M564.20,107.40v2.8" stroke="#f5e21f" stroke-width="1.3"/>
<path d="M568.70,108.00h2.8M570.10,106.60v2.8" stroke="#f5e21f" stroke-width="1.3"/>
<path d="M567.20,109.50h2.8M568.60,108.10v2.8" stroke="#f5e21f" stroke-width="1.3"/>
<path d="M565.70,110.60h2.8M567.10,109.20v2.8" stroke="#f5e21f" stroke-width="1.3"/>
<path d="M568.70,110.60h2.8M570.10,109.20v2.8" stroke="#f5e21f" stroke-width="1.3"/>
<path d="M566.80,112.50h2.8M568.20,111.10v2.8" stroke="#f5e21f" stroke-width="1.3"/>
<path d="M567.90,113.60h2.8M569.30,112.20v2.8" stroke="#f5e21f" stroke-width="1.3"/>
<path d="M565.70,114.30h2.8M567.10,112.90v2.8" stroke="#f5e21f" stroke-width="1.3"/>
<path d="M567.60,111.20h2.8M569.00,109.80v2.8" stroke="#f5e21f" stroke-width="1.3"/>
<path d="M563.90,115.40h2.8M565.30,114.00v2.8" stroke="#1f9e89" stroke-width="1.3"/>
<text x="335.30" y="167.80" font-size="12.6" fill="#000" stroke="#000" stroke-width="0.14" text-anchor="start" font-weight="bold" >d</text>
<text x="372.15" y="172.20" font-size="8.3" fill="#111111" stroke="#111111" stroke-width="0.14" font-weight="normal" textLength="85.50" lengthAdjust="spacing" >Si structure similarity</text>
<rect x="363.7" y="177.4" width="102.80000000000001" height="94.9" fill="none" stroke="#666" stroke-width="0.9"/>
<line x1="380.70" y1="272.30" x2="380.70" y2="274.90" stroke="#444" stroke-width="0.75" />
<text x="380.70" y="283.40" font-size="7.7" fill="#111111" stroke="#111111" stroke-width="0.14" text-anchor="middle" font-weight="normal" >4</text>
<line x1="398.48" y1="272.30" x2="398.48" y2="274.90" stroke="#444" stroke-width="0.75" />
<text x="398.48" y="283.40" font-size="7.7" fill="#111111" stroke="#111111" stroke-width="0.14" text-anchor="middle" font-weight="normal" >6</text>
<line x1="416.26" y1="272.30" x2="416.26" y2="274.90" stroke="#444" stroke-width="0.75" />
<text x="416.26" y="283.40" font-size="7.7" fill="#111111" stroke="#111111" stroke-width="0.14" text-anchor="middle" font-weight="normal" >8</text>
<line x1="434.04" y1="272.30" x2="434.04" y2="274.90" stroke="#444" stroke-width="0.75" />
<text x="434.04" y="283.40" font-size="7.7" fill="#111111" stroke="#111111" stroke-width="0.14" text-anchor="middle" font-weight="normal" >10</text>
<line x1="451.82" y1="272.30" x2="451.82" y2="274.90" stroke="#444" stroke-width="0.75" />
<text x="451.82" y="283.40" font-size="7.7" fill="#111111" stroke="#111111" stroke-width="0.14" text-anchor="middle" font-weight="normal" >12</text>
<line x1="360.90" y1="178.60" x2="363.70" y2="178.60" stroke="#444" stroke-width="0.75" />
<text x="357.50" y="181.35" font-size="7.7" fill="#111111" stroke="#111111" stroke-width="0.14" text-anchor="end" font-weight="normal" >20</text>
<line x1="360.90" y1="195.50" x2="363.70" y2="195.50" stroke="#444" stroke-width="0.75" />
<text x="357.50" y="198.25" font-size="7.7" fill="#111111" stroke="#111111" stroke-width="0.14" text-anchor="end" font-weight="normal" >18</text>
<line x1="360.90" y1="212.40" x2="363.70" y2="212.40" stroke="#444" stroke-width="0.75" />
<text x="357.50" y="215.15" font-size="7.7" fill="#111111" stroke="#111111" stroke-width="0.14" text-anchor="end" font-weight="normal" >16</text>
<line x1="360.90" y1="229.30" x2="363.70" y2="229.30" stroke="#444" stroke-width="0.75" />
<text x="357.50" y="232.05" font-size="7.7" fill="#111111" stroke="#111111" stroke-width="0.14" text-anchor="end" font-weight="normal" >14</text>
<line x1="360.90" y1="246.20" x2="363.70" y2="246.20" stroke="#444" stroke-width="0.75" />
<text x="357.50" y="248.95" font-size="7.7" fill="#111111" stroke="#111111" stroke-width="0.14" text-anchor="end" font-weight="normal" >12</text>
<line x1="360.90" y1="263.10" x2="363.70" y2="263.10" stroke="#444" stroke-width="0.75" />
<text x="357.50" y="265.85" font-size="7.7" fill="#111111" stroke="#111111" stroke-width="0.14" text-anchor="end" font-weight="normal" >10</text>
<text x="399.95" y="297.10" font-size="8.5" fill="#42527a" stroke="#42527a" stroke-width="0.14" font-weight="normal" textLength="30.00" lengthAdjust="spacing" >UMAP0</text>
<text x="0" y="0" font-size="8.5" fill="#42527a" stroke="#42527a" stroke-width="0.14" text-anchor="middle" textLength="27.4" lengthAdjust="spacingAndGlyphs" transform="translate(343.20,225.70) rotate(-90)">UMAP1</text>
<rect x="469.7" y="197.2" width="6.4" height="73.40000000000003" fill="url(#gcw)"/>
<line x1="476.10" y1="197.20" x2="477.90" y2="197.20" stroke="#333" stroke-width="0.7" />
<text x="478.75" y="200.20" font-size="7.4" fill="#111111" stroke="#111111" stroke-width="0.04" font-weight="normal" textLength="15.40" lengthAdjust="spacingAndGlyphs" >0.50</text>
<line x1="476.10" y1="211.88" x2="477.90" y2="211.88" stroke="#333" stroke-width="0.7" />
<text x="478.75" y="214.88" font-size="7.4" fill="#111111" stroke="#111111" stroke-width="0.04" font-weight="normal" textLength="15.40" lengthAdjust="spacingAndGlyphs" >0.48</text>
<line x1="476.10" y1="226.56" x2="477.90" y2="226.56" stroke="#333" stroke-width="0.7" />
<text x="478.75" y="229.56" font-size="7.4" fill="#111111" stroke="#111111" stroke-width="0.04" font-weight="normal" textLength="15.40" lengthAdjust="spacingAndGlyphs" >0.46</text>
<line x1="476.10" y1="241.24" x2="477.90" y2="241.24" stroke="#333" stroke-width="0.7" />
<text x="478.75" y="244.24" font-size="7.4" fill="#111111" stroke="#111111" stroke-width="0.04" font-weight="normal" textLength="15.40" lengthAdjust="spacingAndGlyphs" >0.44</text>
<line x1="476.10" y1="255.92" x2="477.90" y2="255.92" stroke="#333" stroke-width="0.7" />
<text x="478.75" y="258.92" font-size="7.4" fill="#111111" stroke="#111111" stroke-width="0.04" font-weight="normal" textLength="15.40" lengthAdjust="spacingAndGlyphs" >0.42</text>
<line x1="476.10" y1="270.60" x2="477.90" y2="270.60" stroke="#333" stroke-width="0.7" />
<text x="478.75" y="273.60" font-size="7.4" fill="#111111" stroke="#111111" stroke-width="0.04" font-weight="normal" textLength="15.40" lengthAdjust="spacingAndGlyphs" >0.40</text>
<text x="468.45" y="178.70" font-size="8.5" fill="#42527a" stroke="#42527a" stroke-width="0.14" font-weight="normal" textLength="38.20" lengthAdjust="spacing" >Structure</text>
<text x="468.45" y="188.50" font-size="8.5" fill="#42527a" stroke="#42527a" stroke-width="0.14" font-weight="normal" textLength="37.10" lengthAdjust="spacing" >similarity</text>
<text x="388.25" y="197.20" font-size="7.8" fill="#111111" stroke="#111111" stroke-width="0.14" font-weight="normal" textLength="71.40" lengthAdjust="spacing" >Low-similarity region</text>
<text x="391.65" y="232.10" font-size="7.8" fill="#111111" stroke="#111111" stroke-width="0.14" font-weight="normal" textLength="73.20" lengthAdjust="spacing" >High-similarity region</text>
<ellipse cx="373.5" cy="187.7" rx="8.4" ry="8.8" fill="none" stroke="#8a8a8a" stroke-width="0.75" stroke-dasharray="1.9,1.3"/>
<ellipse cx="454.8" cy="254" rx="7.6" ry="18.2" transform="rotate(14 454.8 254)" fill="none" stroke="#8a8a8a" stroke-width="0.75" stroke-dasharray="1.9,1.3"/>
<circle cx="372.50" cy="184.20" r="1.35" fill="#4f74e6"/>
<circle cx="374.50" cy="183.40" r="1.35" fill="#4f74e6"/>
<circle cx="371.20" cy="185.60" r="1.35" fill="#4f74e6"/>
<circle cx="373.50" cy="186.40" r="1.35" fill="#4f74e6"/>
<circle cx="371.50" cy="187.60" r="1.35" fill="#4f74e6"/>
<circle cx="373.80" cy="188.50" r="1.35" fill="#4f74e6"/>
<circle cx="372.80" cy="190.20" r="1.35" fill="#4f74e6"/>
<circle cx="370.60" cy="190.20" r="1.35" fill="#4f74e6"/>
<circle cx="374.40" cy="191.60" r="1.35" fill="#4f74e6"/>
<circle cx="372.20" cy="193.80" r="1.35" fill="#4f74e6"/>
<circle cx="371.30" cy="192.00" r="1.35" fill="#4f74e6"/>
<circle cx="373.60" cy="187.50" r="0.9" fill="#7d9cf2"/>
<circle cx="374.00" cy="190.00" r="0.9" fill="#7d9cf2"/>
<circle cx="457.00" cy="244.20" r="1.15" fill="#e8c7b8"/>
<circle cx="454.70" cy="247.00" r="1.15" fill="#ec8062"/>
<circle cx="457.50" cy="248.00" r="1.15" fill="#a5c2f5"/>
<circle cx="459.40" cy="248.90" r="1.15" fill="#f0c0a8"/>
<circle cx="454.70" cy="254.10" r="1.15" fill="#6a8ff0"/>
<circle cx="450.90" cy="258.90" r="1.15" fill="#f08c6c"/>
<circle cx="453.70" cy="257.90" r="1.15" fill="#d8d8d8"/>
<circle cx="453.30" cy="261.30" r="1.15" fill="#d5d5d5"/>
<circle cx="454.20" cy="263.60" r="1.15" fill="#ea7458"/>
<circle cx="452.30" cy="263.10" r="1.15" fill="#f08a60"/>
<circle cx="449.90" cy="264.60" r="1.15" fill="#f2c7b0"/>
<circle cx="451.80" cy="266.90" r="1.15" fill="#a9c4f5"/>
<circle cx="455.50" cy="262.80" r="1.15" fill="#f09a7c"/>
<text x="510.80" y="167.80" font-size="12.6" fill="#000" stroke="#000" stroke-width="0.14" text-anchor="start" font-weight="bold" >e</text>
<text x="551.45" y="172.20" font-size="8.3" fill="#111111" stroke="#111111" stroke-width="0.14" font-weight="normal" textLength="79.70" lengthAdjust="spacing" >Si formation energy</text>
<rect x="541" y="177.4" width="101.20000000000005" height="94.9" fill="none" stroke="#666" stroke-width="0.9"/>
<line x1="558.30" y1="272.30" x2="558.30" y2="274.90" stroke="#444" stroke-width="0.75" />
<text x="558.30" y="283.40" font-size="7.7" fill="#111111" stroke="#111111" stroke-width="0.14" text-anchor="middle" font-weight="normal" >4</text>
<line x1="575.78" y1="272.30" x2="575.78" y2="274.90" stroke="#444" stroke-width="0.75" />
<text x="575.78" y="283.40" font-size="7.7" fill="#111111" stroke="#111111" stroke-width="0.14" text-anchor="middle" font-weight="normal" >6</text>
<line x1="593.26" y1="272.30" x2="593.26" y2="274.90" stroke="#444" stroke-width="0.75" />
<text x="593.26" y="283.40" font-size="7.7" fill="#111111" stroke="#111111" stroke-width="0.14" text-anchor="middle" font-weight="normal" >8</text>
<line x1="610.74" y1="272.30" x2="610.74" y2="274.90" stroke="#444" stroke-width="0.75" />
<text x="610.74" y="283.40" font-size="7.7" fill="#111111" stroke="#111111" stroke-width="0.14" text-anchor="middle" font-weight="normal" >10</text>
<line x1="628.22" y1="272.30" x2="628.22" y2="274.90" stroke="#444" stroke-width="0.75" />
<text x="628.22" y="283.40" font-size="7.7" fill="#111111" stroke="#111111" stroke-width="0.14" text-anchor="middle" font-weight="normal" >12</text>
<line x1="538.20" y1="178.60" x2="541.00" y2="178.60" stroke="#444" stroke-width="0.75" />
<text x="534.80" y="181.35" font-size="7.7" fill="#111111" stroke="#111111" stroke-width="0.14" text-anchor="end" font-weight="normal" >20</text>
<line x1="538.20" y1="195.50" x2="541.00" y2="195.50" stroke="#444" stroke-width="0.75" />
<text x="534.80" y="198.25" font-size="7.7" fill="#111111" stroke="#111111" stroke-width="0.14" text-anchor="end" font-weight="normal" >18</text>
<line x1="538.20" y1="212.40" x2="541.00" y2="212.40" stroke="#444" stroke-width="0.75" />
<text x="534.80" y="215.15" font-size="7.7" fill="#111111" stroke="#111111" stroke-width="0.14" text-anchor="end" font-weight="normal" >16</text>
<line x1="538.20" y1="229.30" x2="541.00" y2="229.30" stroke="#444" stroke-width="0.75" />
<text x="534.80" y="232.05" font-size="7.7" fill="#111111" stroke="#111111" stroke-width="0.14" text-anchor="end" font-weight="normal" >14</text>
<line x1="538.20" y1="246.20" x2="541.00" y2="246.20" stroke="#444" stroke-width="0.75" />
<text x="534.80" y="248.95" font-size="7.7" fill="#111111" stroke="#111111" stroke-width="0.14" text-anchor="end" font-weight="normal" >12</text>
<line x1="538.20" y1="263.10" x2="541.00" y2="263.10" stroke="#444" stroke-width="0.75" />
<text x="534.80" y="265.85" font-size="7.7" fill="#111111" stroke="#111111" stroke-width="0.14" text-anchor="end" font-weight="normal" >10</text>
<text x="576.65" y="297.20" font-size="8.5" fill="#42527a" stroke="#42527a" stroke-width="0.14" font-weight="normal" textLength="30.70" lengthAdjust="spacing" >UMAP0</text>
<text x="0" y="0" font-size="8.5" fill="#42527a" stroke="#42527a" stroke-width="0.14" text-anchor="middle" textLength="27.4" lengthAdjust="spacingAndGlyphs" transform="translate(519.80,225.80) rotate(-90)">UMAP1</text>
<rect x="645.5" y="197.2" width="6.5" height="73.5" fill="url(#gvi)"/>
<line x1="652.00" y1="197.20" x2="653.80" y2="197.20" stroke="#333" stroke-width="0.7" />
<text x="654.45" y="200.20" font-size="7.4" fill="#111111" stroke="#111111" stroke-width="0.04" font-weight="normal" textLength="11.90" lengthAdjust="spacingAndGlyphs" >0.5</text>
<line x1="652.00" y1="211.90" x2="653.80" y2="211.90" stroke="#333" stroke-width="0.7" />
<text x="654.45" y="214.90" font-size="7.4" fill="#111111" stroke="#111111" stroke-width="0.04" font-weight="normal" textLength="11.90" lengthAdjust="spacingAndGlyphs" >0.4</text>
<line x1="652.00" y1="226.60" x2="653.80" y2="226.60" stroke="#333" stroke-width="0.7" />
<text x="654.45" y="229.60" font-size="7.4" fill="#111111" stroke="#111111" stroke-width="0.04" font-weight="normal" textLength="11.90" lengthAdjust="spacingAndGlyphs" >0.3</text>
<line x1="652.00" y1="241.30" x2="653.80" y2="241.30" stroke="#333" stroke-width="0.7" />
<text x="654.45" y="244.30" font-size="7.4" fill="#111111" stroke="#111111" stroke-width="0.04" font-weight="normal" textLength="11.90" lengthAdjust="spacingAndGlyphs" >0.2</text>
<line x1="652.00" y1="256.00" x2="653.80" y2="256.00" stroke="#333" stroke-width="0.7" />
<text x="654.45" y="259.00" font-size="7.4" fill="#111111" stroke="#111111" stroke-width="0.04" font-weight="normal" textLength="11.90" lengthAdjust="spacingAndGlyphs" >0.1</text>
<line x1="652.00" y1="270.70" x2="653.80" y2="270.70" stroke="#333" stroke-width="0.7" />
<text x="654.45" y="273.70" font-size="7.4" fill="#111111" stroke="#111111" stroke-width="0.04" font-weight="normal" textLength="4.30" lengthAdjust="spacingAndGlyphs" >0</text>
<text x="644.45" y="178.70" font-size="8.5" fill="#42527a" stroke="#42527a" stroke-width="0.14" font-weight="normal" textLength="40.80" lengthAdjust="spacing" >Formation</text>
<text x="644.45" y="188.50" font-size="8.5" fill="#42527a" stroke="#42527a" stroke-width="0.14" font-weight="normal" textLength="28.70" lengthAdjust="spacing" >energy</text>
<text x="547.35" y="206.10" font-size="7.8" fill="#111111" stroke="#111111" stroke-width="0.14" font-weight="normal" textLength="64.30" lengthAdjust="spacing" >Low-energy region</text>
<text x="574.65" y="233.70" font-size="7.8" fill="#111111" stroke="#111111" stroke-width="0.14" font-weight="normal" textLength="66.20" lengthAdjust="spacing" >High-energy region</text>
<ellipse cx="551.6" cy="188" rx="8.4" ry="8.9" fill="none" stroke="#8a8a8a" stroke-width="0.75" stroke-dasharray="1.9,1.3"/>
<ellipse cx="630.6" cy="254" rx="8.2" ry="18.4" transform="rotate(17 630.6 254)" fill="none" stroke="#8a8a8a" stroke-width="0.75" stroke-dasharray="1.9,1.3"/>
<circle cx="550.70" cy="184.20" r="1.35" fill="#8fd744"/>
<circle cx="552.70" cy="183.40" r="1.35" fill="#e8e419"/>
<circle cx="549.40" cy="185.60" r="1.35" fill="#7ad151"/>
<circle cx="551.70" cy="186.40" r="1.35" fill="#6ece58"/>
<circle cx="549.70" cy="187.60" r="1.35" fill="#5ec962"/>
<circle cx="552.00" cy="188.50" r="1.35" fill="#4ac16d"/>
<circle cx="551.00" cy="190.20" r="1.35" fill="#35b779"/>
<circle cx="548.80" cy="190.20" r="1.35" fill="#5ec962"/>
<circle cx="552.60" cy="191.60" r="1.35" fill="#3fbc73"/>
<circle cx="550.40" cy="193.80" r="1.35" fill="#2db27d"/>
<circle cx="549.50" cy="192.00" r="1.35" fill="#1f9e89"/>
<circle cx="633.00" cy="244.20" r="1.15" fill="#2a788e"/>
<circle cx="631.60" cy="245.60" r="1.15" fill="#31688e"/>
<circle cx="630.60" cy="247.00" r="1.15" fill="#3b528b"/>
<circle cx="633.50" cy="247.50" r="1.15" fill="#3b528b"/>
<circle cx="635.40" cy="249.40" r="1.15" fill="#440154"/>
<circle cx="631.10" cy="254.10" r="1.15" fill="#3b528b"/>
<circle cx="629.70" cy="257.90" r="1.15" fill="#414487"/>
<circle cx="626.80" cy="258.90" r="1.15" fill="#3b528b"/>
<circle cx="630.20" cy="261.30" r="1.15" fill="#35b779"/>
<circle cx="628.70" cy="262.20" r="1.15" fill="#21918c"/>
<circle cx="630.60" cy="263.60" r="1.15" fill="#26828e"/>
<circle cx="626.40" cy="263.10" r="1.15" fill="#482475"/>
<circle cx="625.40" cy="264.60" r="1.15" fill="#440154"/>
<circle cx="627.30" cy="266.50" r="1.15" fill="#440154"/>
<circle cx="634.40" cy="246.20" r="1.15" fill="#2a788e"/>
<polygon points="591.64,101.64 592.95,101.35 594.22,101.01 595.47,100.64 596.68,100.25 597.87,99.83 599.02,99.38 600.15,98.91 601.25,98.41 602.32,97.89 603.36,97.34 604.38,96.77 605.36,96.18 606.32,95.55 607.25,94.91 608.14,94.23 609.01,93.54 609.85,92.81 610.66,92.07 611.44,91.29 612.19,90.49 612.91,89.67 613.61,88.82 614.26,87.94 614.89,87.04 615.49,86.11 616.06,85.16 616.59,84.19 617.10,83.19 617.57,82.16 618.01,81.11 615.19,80.09 614.85,81.07 614.49,82.03 614.09,82.97 613.66,83.90 613.21,84.80 612.72,85.69 612.21,86.55 611.66,87.40 611.08,88.23 610.47,89.04 609.83,89.83 609.16,90.61 608.46,91.36 607.72,92.10 606.96,92.82 606.16,93.51 605.33,94.19 604.46,94.86 603.57,95.50 602.64,96.12 601.68,96.73 600.68,97.31 599.65,97.88 598.59,98.43 597.50,98.96 596.38,99.47 595.22,99.96 594.03,100.43 592.81,100.89 591.56,101.36" fill="url(#gpa)"/>
<polygon points="612.3,79.5 619.8,71.8 620.3,82.7 616.6,80.6" fill="#8c35f2"/>
<polygon points="378.85,224.52 378.98,225.95 379.17,227.35 379.40,228.70 379.66,230.03 379.97,231.31 380.31,232.56 380.69,233.77 381.11,234.95 381.57,236.09 382.06,237.19 382.59,238.26 383.16,239.29 383.76,240.29 384.41,241.25 385.09,242.17 385.81,243.05 386.57,243.90 387.37,244.71 388.21,245.48 389.09,246.21 390.00,246.90 390.95,247.55 391.94,248.15 392.97,248.72 394.03,249.25 395.13,249.74 396.27,250.18 397.44,250.59 398.65,250.95 399.89,251.27 400.51,248.33 399.36,248.11 398.24,247.84 397.15,247.54 396.10,247.21 395.08,246.83 394.09,246.42 393.13,245.97 392.20,245.48 391.29,244.96 390.42,244.39 389.58,243.79 388.77,243.15 387.99,242.47 387.23,241.74 386.51,240.98 385.81,240.18 385.15,239.33 384.51,238.44 383.90,237.51 383.32,236.54 382.77,235.53 382.25,234.47 381.76,233.37 381.30,232.23 380.87,231.04 380.48,229.81 380.11,228.54 379.77,227.23 379.45,225.87 379.15,224.48" fill="url(#gpd)"/>
<polygon points="401.3,246 409,253.5 397.6,253.9 400.2,249.8" fill="#8c35f2"/>
<polygon points="556.95,224.52 557.08,225.95 557.27,227.35 557.50,228.70 557.76,230.03 558.07,231.31 558.41,232.56 558.79,233.77 559.21,234.95 559.67,236.09 560.16,237.19 560.69,238.26 561.26,239.29 561.86,240.29 562.51,241.25 563.19,242.17 563.91,243.05 564.67,243.90 565.47,244.71 566.31,245.48 567.19,246.21 568.10,246.90 569.05,247.55 570.04,248.15 571.07,248.72 572.13,249.25 573.23,249.74 574.37,250.18 575.54,250.59 576.75,250.95 577.99,251.27 578.61,248.33 577.46,248.11 576.34,247.84 575.25,247.54 574.20,247.21 573.18,246.83 572.19,246.42 571.23,245.97 570.30,245.48 569.39,244.96 568.52,244.39 567.68,243.79 566.87,243.15 566.09,242.47 565.33,241.74 564.61,240.98 563.91,240.18 563.25,239.33 562.61,238.44 562.00,237.51 561.42,236.54 560.87,235.53 560.35,234.47 559.86,233.37 559.40,232.23 558.97,231.04 558.58,229.81 558.21,228.54 557.87,227.23 557.55,225.87 557.25,224.48" fill="url(#gpe)"/>
<polygon points="579.4,246 587.1,253.5 575.7,253.9 578.3,249.8" fill="#8c35f2"/>
<text x="-0.40" y="317.20" font-size="12.6" fill="#000" stroke="#000" stroke-width="0.14" text-anchor="start" font-weight="bold" >f</text>
<text x="13.55" y="317.70" font-size="9.2" fill="#2a4786" stroke="#2a4786" stroke-width="0.14" font-weight="normal" textLength="71.40" lengthAdjust="spacing" >Multimodal RAG</text>
<rect x="97.8" y="325.8" width="74.5" height="12.1" fill="#fff" stroke="#3b6785" stroke-width="1.1"/>
<text x="120.55" y="334.70" font-size="8.5" fill="#111111" stroke="#111111" stroke-width="0.14" font-weight="normal" textLength="29.50" lengthAdjust="spacing" >Prompt</text>
<path d="M133.3,351h3.2M134.9,349.4v3.2" stroke="#333" stroke-width="0.75"/>
<line x1="172.90" y1="351.00" x2="237.80" y2="351.00" stroke="#111" stroke-width="1.25" />
<polygon points="242.30,351.00 237.30,353.20 238.10,351.00 237.30,348.80" fill="#111"/>
<text x="179.85" y="380.10" font-size="8.2" fill="#111111" stroke="#111111" stroke-width="0.14" font-weight="normal" textLength="55.10" lengthAdjust="spacing" >Stage 1: input</text>
<rect x="255.7" y="334.4" width="146.9" height="31.6" fill="#fdd96e" stroke="#55788f" stroke-width="0.8"/>
<text x="303.95" y="354.20" font-size="8.5" fill="#111111" stroke="#111111" stroke-width="0.14" font-weight="normal" textLength="46.00" lengthAdjust="spacing" >MatterChat</text>
<line x1="283.10" y1="373.00" x2="283.10" y2="398.10" stroke="#111" stroke-width="1.25" />
<polygon points="283.10,402.60 280.90,397.60 283.10,398.40 285.30,397.60" fill="#111"/>
<path d="M268.2,411.1 v26.7 a14.65,3 0 0 0 29.3,0 v-26.7" fill="#c0defa" stroke="#111" stroke-width="1.35"/>
<ellipse cx="282.85" cy="411.1" rx="14.65" ry="2.9" fill="#c0defa" stroke="#111" stroke-width="1.35"/>
<text x="247.55" y="456.00" font-size="8.4" fill="#111111" stroke="#111111" stroke-width="0.14" font-weight="normal" textLength="71.00" lengthAdjust="spacing" >Material database</text>
<text x="257.15" y="466.00" font-size="8.4" fill="#111111" stroke="#111111" stroke-width="0.14" font-weight="normal" textLength="51.80" lengthAdjust="spacing" >(training set)</text>
<text x="309.15" y="414.40" font-size="8.2" fill="#111111" stroke="#111111" stroke-width="0.14" font-weight="normal" textLength="122.40" lengthAdjust="spacing" >Stage 2: retrieve (L2 similarity)</text>
<line x1="310.70" y1="424.20" x2="426.10" y2="424.20" stroke="#111" stroke-width="1.25" />
<polygon points="430.60,424.20 425.60,426.40 426.40,424.20 425.60,422.00" fill="#111"/>
<polyline points="411.6,349.2 490.2,349.2 490.2,396" fill="none" stroke="#111" stroke-width="1.25"/>
<line x1="490.20" y1="390.00" x2="490.20" y2="395.80" stroke="#111" stroke-width="1.25" />
<polygon points="490.20,400.30 488.00,395.30 490.20,396.10 492.40,395.30" fill="#111"/>
<rect x="448.4" y="413.2" width="75.2" height="13.2" fill="#fff" stroke="#3b6785" stroke-width="0.9"/>
<rect x="453" y="416.8" width="75.3" height="13" fill="#fff" stroke="#3b6785" stroke-width="0.9"/>
<rect x="457.7" y="420.6" width="75.4" height="13.4" fill="#fff" stroke="#3b6785" stroke-width="0.9"/>
<text x="475.55" y="430.40" font-size="8.5" fill="#111111" stroke="#111111" stroke-width="0.14" font-weight="normal" textLength="39.60" lengthAdjust="spacing" >Response</text>
<line x1="490.40" y1="439.70" x2="490.40" y2="453.30" stroke="#111" stroke-width="1.25" />
<polygon points="490.40,457.80 488.20,452.80 490.40,453.60 492.60,452.80" fill="#111"/>
<text x="528.45" y="447.00" font-size="8.5" fill="#111111" stroke="#111111" stroke-width="0.14" font-weight="normal" textLength="33.10" lengthAdjust="spacing" >Stage 3:</text>
<text x="528.45" y="456.40" font-size="8.5" fill="#111111" stroke="#111111" stroke-width="0.14" font-weight="normal" textLength="42.00" lengthAdjust="spacing" >aggregate</text>
<rect x="453.9" y="461.7" width="75.7" height="12.5" fill="#fff" stroke="#3b6785" stroke-width="0.9"/>
<text x="467.65" y="471.10" font-size="8.5" fill="#111111" stroke="#111111" stroke-width="0.14" font-weight="normal" textLength="48.00" lengthAdjust="spacing" >Final output</text>
<rect x="33.2" y="14.3" width="45.39999999999999" height="45.599999999999994" fill="none" stroke="#d3d8e6" stroke-width="0.6"/><line x1="48.45" y1="14.31" x2="55.35" y2="18.28" stroke="#d9b28a" stroke-width="0.65"/><line x1="55.35" y1="18.28" x2="62.25" y2="14.31" stroke="#d9b28a" stroke-width="0.65"/><line x1="60.58" y1="23.26" x2="65.70" y2="20.31" stroke="#d9b28a" stroke-width="0.65"/><line x1="60.58" y1="23.26" x2="55.35" y2="18.71" stroke="#d9b28a" stroke-width="0.65"/><line x1="55.35" y1="18.71" x2="55.35" y2="18.28" stroke="#d9b28a" stroke-width="0.65"/><line x1="65.70" y1="20.31" x2="65.70" y2="16.29" stroke="#d9b28a" stroke-width="0.65"/><line x1="62.25" y1="14.31" x2="65.70" y2="16.29" stroke="#d9b28a" stroke-width="0.65"/><line x1="38.10" y1="56.33" x2="38.10" y2="52.31" stroke="#d9b28a" stroke-width="0.65"/><line x1="34.65" y1="50.33" x2="38.10" y2="52.31" stroke="#d9b28a" stroke-width="0.65"/><line x1="34.65" y1="58.31" x2="38.10" y2="56.33" stroke="#d9b28a" stroke-width="0.65"/><line x1="56.09" y1="54.77" x2="55.35" y2="54.96" stroke="#d9b28a" stroke-width="0.65"/><line x1="56.09" y1="54.77" x2="60.83" y2="49.51" stroke="#d9b28a" stroke-width="0.65"/><line x1="54.69" y1="54.73" x2="55.35" y2="54.96" stroke="#d9b28a" stroke-width="0.65"/><line x1="54.69" y1="54.73" x2="50.43" y2="49.19" stroke="#d9b28a" stroke-width="0.65"/><line x1="50.48" y1="47.47" x2="50.43" y2="49.19" stroke="#d9b28a" stroke-width="0.65"/><line x1="50.48" y1="47.47" x2="55.01" y2="42.09" stroke="#d9b28a" stroke-width="0.65"/><line x1="55.72" y1="42.07" x2="60.76" y2="47.16" stroke="#d9b28a" stroke-width="0.65"/><line x1="55.72" y1="42.07" x2="55.35" y2="41.98" stroke="#d9b28a" stroke-width="0.65"/><line x1="55.01" y1="42.09" x2="55.35" y2="41.98" stroke="#d9b28a" stroke-width="0.65"/><line x1="60.83" y1="49.51" x2="60.76" y2="47.16" stroke="#d9b28a" stroke-width="0.65"/><line x1="62.25" y1="58.31" x2="56.09" y2="54.77" stroke="#d9b28a" stroke-width="0.65"/><line x1="45.00" y1="52.31" x2="41.55" y2="50.33" stroke="#d9b28a" stroke-width="0.65"/><line x1="41.55" y1="46.31" x2="41.55" y2="50.33" stroke="#d9b28a" stroke-width="0.65"/><line x1="41.55" y1="46.31" x2="45.00" y2="44.33" stroke="#d9b28a" stroke-width="0.65"/><line x1="45.00" y1="44.33" x2="50.48" y2="47.47" stroke="#d9b28a" stroke-width="0.65"/><line x1="45.00" y1="52.31" x2="50.43" y2="49.19" stroke="#d9b28a" stroke-width="0.65"/><line x1="62.25" y1="38.32" x2="65.70" y2="40.30" stroke="#d9b28a" stroke-width="0.65"/><line x1="65.70" y1="44.33" x2="65.70" y2="40.30" stroke="#d9b28a" stroke-width="0.65"/><line x1="62.25" y1="38.32" x2="55.72" y2="42.07" stroke="#d9b28a" stroke-width="0.65"/><line x1="65.70" y1="44.33" x2="60.76" y2="47.16" stroke="#d9b28a" stroke-width="0.65"/><line x1="48.45" y1="58.31" x2="45.00" y2="56.33" stroke="#d9b28a" stroke-width="0.65"/><line x1="45.00" y1="56.33" x2="41.55" y2="58.31" stroke="#d9b28a" stroke-width="0.65"/><line x1="38.10" y1="56.33" x2="41.55" y2="58.31" stroke="#d9b28a" stroke-width="0.65"/><line x1="54.69" y1="54.73" x2="48.45" y2="58.31" stroke="#d9b28a" stroke-width="0.65"/><line x1="45.00" y1="52.31" x2="45.00" y2="56.33" stroke="#d9b28a" stroke-width="0.65"/><line x1="38.10" y1="52.31" x2="41.55" y2="50.33" stroke="#d9b28a" stroke-width="0.65"/><line x1="34.65" y1="50.33" x2="34.65" y2="46.31" stroke="#d9b28a" stroke-width="0.65"/><line x1="41.55" y1="46.31" x2="38.10" y2="44.33" stroke="#d9b28a" stroke-width="0.65"/><line x1="38.10" y1="44.33" x2="34.65" y2="46.31" stroke="#d9b28a" stroke-width="0.65"/><line x1="50.62" y1="23.54" x2="45.00" y2="20.31" stroke="#d9b28a" stroke-width="0.65"/><line x1="50.62" y1="23.54" x2="55.35" y2="18.71" stroke="#d9b28a" stroke-width="0.65"/><line x1="48.45" y1="14.31" x2="45.00" y2="16.29" stroke="#d9b28a" stroke-width="0.65"/><line x1="45.00" y1="16.29" x2="45.00" y2="20.31" stroke="#d9b28a" stroke-width="0.65"/><line x1="65.70" y1="16.29" x2="69.15" y2="14.31" stroke="#d9b28a" stroke-width="0.65"/><line x1="60.83" y1="49.51" x2="65.70" y2="52.31" stroke="#d9b28a" stroke-width="0.65"/><line x1="62.25" y1="58.31" x2="65.70" y2="56.33" stroke="#d9b28a" stroke-width="0.65"/><line x1="65.70" y1="56.33" x2="65.70" y2="52.31" stroke="#d9b28a" stroke-width="0.65"/><line x1="65.70" y1="56.33" x2="69.15" y2="58.31" stroke="#d9b28a" stroke-width="0.65"/><line x1="55.01" y1="42.09" x2="48.45" y2="38.32" stroke="#d9b28a" stroke-width="0.65"/><line x1="45.00" y1="44.33" x2="45.00" y2="40.30" stroke="#d9b28a" stroke-width="0.65"/><line x1="45.00" y1="40.30" x2="48.45" y2="38.32" stroke="#d9b28a" stroke-width="0.65"/><line x1="55.35" y1="31.50" x2="55.35" y2="41.98" stroke="#d9b28a" stroke-width="0.65"/><line x1="55.35" y1="31.50" x2="54.13" y2="31.04" stroke="#d9b28a" stroke-width="0.65"/><line x1="54.13" y1="31.04" x2="48.45" y2="34.30" stroke="#d9b28a" stroke-width="0.65"/><line x1="48.45" y1="38.32" x2="48.45" y2="34.30" stroke="#d9b28a" stroke-width="0.65"/><line x1="50.42" y1="25.18" x2="54.13" y2="31.04" stroke="#d9b28a" stroke-width="0.65"/><line x1="50.42" y1="25.18" x2="45.00" y2="28.30" stroke="#d9b28a" stroke-width="0.65"/><line x1="45.00" y1="28.30" x2="45.00" y2="32.32" stroke="#d9b28a" stroke-width="0.65"/><line x1="48.45" y1="34.30" x2="45.00" y2="32.32" stroke="#d9b28a" stroke-width="0.65"/><line x1="65.70" y1="28.30" x2="65.70" y2="32.32" stroke="#d9b28a" stroke-width="0.65"/><line x1="65.70" y1="28.30" x2="60.88" y2="25.53" stroke="#d9b28a" stroke-width="0.65"/><line x1="56.72" y1="31.13" x2="60.88" y2="25.53" stroke="#d9b28a" stroke-width="0.65"/><line x1="56.72" y1="31.13" x2="62.25" y2="34.30" stroke="#d9b28a" stroke-width="0.65"/><line x1="65.70" y1="32.32" x2="62.25" y2="34.30" stroke="#d9b28a" stroke-width="0.65"/><line x1="69.15" y1="22.30" x2="65.70" y2="20.31" stroke="#d9b28a" stroke-width="0.65"/><line x1="60.58" y1="23.26" x2="60.88" y2="25.53" stroke="#d9b28a" stroke-width="0.65"/><line x1="69.15" y1="22.30" x2="69.15" y2="26.32" stroke="#d9b28a" stroke-width="0.65"/><line x1="69.15" y1="26.32" x2="65.70" y2="28.30" stroke="#d9b28a" stroke-width="0.65"/><line x1="50.62" y1="23.54" x2="50.42" y2="25.18" stroke="#d9b28a" stroke-width="0.65"/><line x1="55.35" y1="31.50" x2="56.72" y2="31.13" stroke="#d9b28a" stroke-width="0.65"/><line x1="62.25" y1="38.32" x2="62.25" y2="34.30" stroke="#d9b28a" stroke-width="0.65"/><line x1="76.05" y1="34.30" x2="76.05" y2="38.32" stroke="#d9b28a" stroke-width="0.65"/><line x1="76.05" y1="34.30" x2="72.60" y2="32.32" stroke="#d9b28a" stroke-width="0.65"/><line x1="69.15" y1="34.30" x2="72.60" y2="32.32" stroke="#d9b28a" stroke-width="0.65"/><line x1="69.15" y1="34.30" x2="69.15" y2="38.32" stroke="#d9b28a" stroke-width="0.65"/><line x1="72.60" y1="40.30" x2="76.05" y2="38.32" stroke="#d9b28a" stroke-width="0.65"/><line x1="72.60" y1="40.30" x2="69.15" y2="38.32" stroke="#d9b28a" stroke-width="0.65"/><line x1="72.60" y1="28.30" x2="76.05" y2="26.32" stroke="#d9b28a" stroke-width="0.65"/><line x1="72.60" y1="28.30" x2="72.60" y2="32.32" stroke="#d9b28a" stroke-width="0.65"/><line x1="65.70" y1="32.32" x2="69.15" y2="34.30" stroke="#d9b28a" stroke-width="0.65"/><line x1="72.60" y1="28.30" x2="69.15" y2="26.32" stroke="#d9b28a" stroke-width="0.65"/><line x1="65.70" y1="40.30" x2="69.15" y2="38.32" stroke="#d9b28a" stroke-width="0.65"/><line x1="45.00" y1="28.30" x2="41.55" y2="26.32" stroke="#d9b28a" stroke-width="0.65"/><line x1="45.00" y1="20.31" x2="41.55" y2="22.30" stroke="#d9b28a" stroke-width="0.65"/><line x1="41.55" y1="22.30" x2="41.55" y2="26.32" stroke="#d9b28a" stroke-width="0.65"/><line x1="69.15" y1="14.31" x2="72.60" y2="16.29" stroke="#d9b28a" stroke-width="0.65"/><line x1="69.15" y1="22.30" x2="72.60" y2="20.31" stroke="#d9b28a" stroke-width="0.65"/><line x1="72.60" y1="16.29" x2="72.60" y2="20.31" stroke="#d9b28a" stroke-width="0.65"/><line x1="76.05" y1="26.32" x2="76.05" y2="22.30" stroke="#d9b28a" stroke-width="0.65"/><line x1="72.60" y1="20.31" x2="76.05" y2="22.30" stroke="#d9b28a" stroke-width="0.65"/><line x1="72.60" y1="16.29" x2="76.05" y2="14.31" stroke="#d9b28a" stroke-width="0.65"/><line x1="65.70" y1="52.31" x2="69.15" y2="50.33" stroke="#d9b28a" stroke-width="0.65"/><line x1="65.70" y1="44.33" x2="69.15" y2="46.31" stroke="#d9b28a" stroke-width="0.65"/><line x1="69.15" y1="50.33" x2="69.15" y2="46.31" stroke="#d9b28a" stroke-width="0.65"/><line x1="72.60" y1="40.30" x2="72.60" y2="44.33" stroke="#d9b28a" stroke-width="0.65"/><line x1="69.15" y1="46.31" x2="72.60" y2="44.33" stroke="#d9b28a" stroke-width="0.65"/><line x1="72.60" y1="44.33" x2="76.05" y2="46.31" stroke="#d9b28a" stroke-width="0.65"/><line x1="34.65" y1="34.30" x2="34.65" y2="38.32" stroke="#d9b28a" stroke-width="0.65"/><line x1="34.65" y1="34.30" x2="38.10" y2="32.32" stroke="#d9b28a" stroke-width="0.65"/><line x1="38.10" y1="32.32" x2="41.55" y2="34.30" stroke="#d9b28a" stroke-width="0.65"/><line x1="41.55" y1="34.30" x2="41.55" y2="38.32" stroke="#d9b28a" stroke-width="0.65"/><line x1="34.65" y1="38.32" x2="38.10" y2="40.30" stroke="#d9b28a" stroke-width="0.65"/><line x1="38.10" y1="40.30" x2="41.55" y2="38.32" stroke="#d9b28a" stroke-width="0.65"/><line x1="45.00" y1="32.32" x2="41.55" y2="34.30" stroke="#d9b28a" stroke-width="0.65"/><line x1="38.10" y1="28.30" x2="41.55" y2="26.32" stroke="#d9b28a" stroke-width="0.65"/><line x1="38.10" y1="28.30" x2="38.10" y2="32.32" stroke="#d9b28a" stroke-width="0.65"/><line x1="45.00" y1="40.30" x2="41.55" y2="38.32" stroke="#d9b28a" stroke-width="0.65"/><line x1="38.10" y1="44.33" x2="38.10" y2="40.30" stroke="#d9b28a" stroke-width="0.65"/><line x1="45.00" y1="16.29" x2="41.55" y2="14.31" stroke="#d9b28a" stroke-width="0.65"/><line x1="38.10" y1="28.30" x2="34.65" y2="26.32" stroke="#d9b28a" stroke-width="0.65"/><line x1="72.60" y1="52.31" x2="76.05" y2="50.33" stroke="#d9b28a" stroke-width="0.65"/><line x1="72.60" y1="52.31" x2="72.60" y2="56.33" stroke="#d9b28a" stroke-width="0.65"/><line x1="72.60" y1="56.33" x2="76.05" y2="58.31" stroke="#d9b28a" stroke-width="0.65"/><line x1="76.05" y1="46.31" x2="76.05" y2="50.33" stroke="#d9b28a" stroke-width="0.65"/><line x1="69.15" y1="50.33" x2="72.60" y2="52.31" stroke="#d9b28a" stroke-width="0.65"/><line x1="69.15" y1="58.31" x2="72.60" y2="56.33" stroke="#d9b28a" stroke-width="0.65"/><line x1="34.65" y1="14.31" x2="38.10" y2="16.29" stroke="#d9b28a" stroke-width="0.65"/><line x1="38.10" y1="16.29" x2="38.10" y2="20.31" stroke="#d9b28a" stroke-width="0.65"/><line x1="38.10" y1="20.31" x2="34.65" y2="22.30" stroke="#d9b28a" stroke-width="0.65"/><line x1="41.55" y1="14.31" x2="38.10" y2="16.29" stroke="#d9b28a" stroke-width="0.65"/><line x1="41.55" y1="22.30" x2="38.10" y2="20.31" stroke="#d9b28a" stroke-width="0.65"/><line x1="34.65" y1="26.32" x2="34.65" y2="22.30" stroke="#d9b28a" stroke-width="0.65"/><circle cx="50.62" cy="23.54" r="1.05" fill="#d7a571" /><circle cx="34.65" cy="58.31" r="1.05" fill="#d7a571" /><circle cx="34.65" cy="50.33" r="1.05" fill="#d7a571" /><circle cx="62.25" cy="58.31" r="1.05" fill="#d7a571" /><circle cx="50.42" cy="25.18" r="1.05" fill="#d7a571" /><circle cx="38.10" cy="56.33" r="1.05" fill="#d7a571" /><circle cx="38.10" cy="52.31" r="1.05" fill="#d7a571" /><circle cx="41.55" cy="46.31" r="1.05" fill="#d7a571" /><circle cx="45.00" cy="44.33" r="1.05" fill="#d7a571" /><circle cx="45.00" cy="52.31" r="1.05" fill="#d7a571" /><circle cx="41.55" cy="50.33" r="1.05" fill="#d7a571" /><circle cx="65.70" cy="44.33" r="1.05" fill="#d7a571" /><circle cx="62.25" cy="38.32" r="1.05" fill="#d7a571" /><circle cx="65.70" cy="40.30" r="1.05" fill="#d7a571" /><circle cx="48.45" cy="14.31" r="1.05" fill="#d7a571" /><circle cx="69.15" cy="22.30" r="1.05" fill="#d7a571" /><circle cx="60.58" cy="23.26" r="1.05" fill="#d7a571" /><circle cx="55.35" cy="18.71" r="1.05" fill="#d7a571" /><circle cx="65.70" cy="20.31" r="1.05" fill="#d7a571" /><circle cx="55.35" cy="18.28" r="1.05" fill="#d7a571" /><circle cx="62.25" cy="14.31" r="1.05" fill="#d7a571" /><circle cx="65.70" cy="16.29" r="1.05" fill="#d7a571" /><circle cx="55.35" cy="31.50" r="1.05" fill="#d7a571" /><circle cx="54.13" cy="31.04" r="1.05" fill="#d7a571" /><circle cx="45.00" cy="28.30" r="1.05" fill="#d7a571" /><circle cx="56.09" cy="54.77" r="1.05" fill="#d7a571" /><circle cx="54.69" cy="54.73" r="1.05" fill="#d7a571" /><circle cx="55.35" cy="54.96" r="1.05" fill="#d7a571" /><circle cx="50.48" cy="47.47" r="1.05" fill="#d7a571" /><circle cx="50.43" cy="49.19" r="1.05" fill="#d7a571" /><circle cx="55.72" cy="42.07" r="1.05" fill="#d7a571" /><circle cx="55.01" cy="42.09" r="1.05" fill="#d7a571" /><circle cx="55.35" cy="41.98" r="1.05" fill="#d7a571" /><circle cx="60.83" cy="49.51" r="1.05" fill="#d7a571" /><circle cx="60.76" cy="47.16" r="1.05" fill="#d7a571" /><circle cx="48.45" cy="58.31" r="1.05" fill="#d7a571" /><circle cx="45.00" cy="56.33" r="1.05" fill="#d7a571" /><circle cx="41.55" cy="58.31" r="1.05" fill="#d7a571" /><circle cx="38.10" cy="44.33" r="1.05" fill="#d7a571" /><circle cx="34.65" cy="46.31" r="1.05" fill="#d7a571" /><circle cx="72.60" cy="28.30" r="1.05" fill="#d7a571" /><circle cx="69.15" cy="26.32" r="1.05" fill="#d7a571" /><circle cx="45.00" cy="16.29" r="1.05" fill="#d7a571" /><circle cx="45.00" cy="20.31" r="1.05" fill="#d7a571" /><circle cx="69.15" cy="14.31" r="1.05" fill="#d7a571" /><circle cx="76.05" cy="26.32" r="1.05" fill="#d7a571" /><circle cx="65.70" cy="56.33" r="1.05" fill="#d7a571" /><circle cx="65.70" cy="52.31" r="1.05" fill="#d7a571" /><circle cx="69.15" cy="58.31" r="1.05" fill="#d7a571" /><circle cx="45.00" cy="40.30" r="1.05" fill="#d7a571" /><circle cx="48.45" cy="38.32" r="1.05" fill="#d7a571" /><circle cx="48.45" cy="34.30" r="1.05" fill="#d7a571" /><circle cx="45.00" cy="32.32" r="1.05" fill="#d7a571" /><circle cx="65.70" cy="28.30" r="1.05" fill="#d7a571" /><circle cx="56.72" cy="31.13" r="1.05" fill="#d7a571" /><circle cx="60.88" cy="25.53" r="1.05" fill="#d7a571" /><circle cx="65.70" cy="32.32" r="1.05" fill="#d7a571" /><circle cx="62.25" cy="34.30" r="1.05" fill="#d7a571" /><circle cx="76.05" cy="34.30" r="1.05" fill="#d7a571" /><circle cx="69.15" cy="34.30" r="1.05" fill="#d7a571" /><circle cx="72.60" cy="32.32" r="1.05" fill="#d7a571" /><circle cx="72.60" cy="40.30" r="1.05" fill="#d7a571" /><circle cx="69.15" cy="38.32" r="1.05" fill="#d7a571" /><circle cx="76.05" cy="38.32" r="1.05" fill="#d7a571" /><circle cx="41.55" cy="22.30" r="1.05" fill="#d7a571" /><circle cx="38.10" cy="28.30" r="1.05" fill="#d7a571" /><circle cx="41.55" cy="26.32" r="1.05" fill="#d7a571" /><circle cx="72.60" cy="16.29" r="1.05" fill="#d7a571" /><circle cx="72.60" cy="20.31" r="1.05" fill="#d7a571" /><circle cx="76.05" cy="22.30" r="1.05" fill="#d7a571" /><circle cx="76.05" cy="14.31" r="1.05" fill="#d7a571" /><circle cx="69.15" cy="50.33" r="1.05" fill="#d7a571" /><circle cx="69.15" cy="46.31" r="1.05" fill="#d7a571" /><circle cx="72.60" cy="44.33" r="1.05" fill="#d7a571" /><circle cx="76.05" cy="46.31" r="1.05" fill="#d7a571" /><circle cx="34.65" cy="34.30" r="1.05" fill="#d7a571" /><circle cx="38.10" cy="32.32" r="1.05" fill="#d7a571" /><circle cx="41.55" cy="34.30" r="1.05" fill="#d7a571" /><circle cx="34.65" cy="38.32" r="1.05" fill="#d7a571" /><circle cx="38.10" cy="40.30" r="1.05" fill="#d7a571" /><circle cx="41.55" cy="38.32" r="1.05" fill="#d7a571" /><circle cx="41.55" cy="14.31" r="1.05" fill="#d7a571" /><circle cx="34.65" cy="26.32" r="1.05" fill="#d7a571" /><circle cx="72.60" cy="52.31" r="1.05" fill="#d7a571" /><circle cx="76.05" cy="50.33" r="1.05" fill="#d7a571" /><circle cx="72.60" cy="56.33" r="1.05" fill="#d7a571" /><circle cx="76.05" cy="58.31" r="1.05" fill="#d7a571" /><circle cx="34.65" cy="14.31" r="1.05" fill="#d7a571" /><circle cx="38.10" cy="16.29" r="1.05" fill="#d7a571" /><circle cx="38.10" cy="20.31" r="1.05" fill="#d7a571" /><circle cx="34.65" cy="22.30" r="1.05" fill="#d7a571" /><polygon points="188.5,20.3 221.3,38.6 189.7,57.9 156.4,40.1" fill="none" stroke="#c8d0e2" stroke-width="0.5"/><line x1="172.80" y1="49.25" x2="176.90" y2="51.54" stroke="#dcb48a" stroke-width="0.5"/><line x1="179.88" y1="29.79" x2="184.66" y2="28.26" stroke="#dcb48a" stroke-width="0.5"/><line x1="197.23" y1="53.45" x2="193.21" y2="55.92" stroke="#dcb48a" stroke-width="0.5"/><line x1="185.12" y1="46.39" x2="180.81" y2="45.26" stroke="#dcb48a" stroke-width="0.5"/><line x1="195.97" y1="33.77" x2="201.16" y2="32.41" stroke="#dcb48a" stroke-width="0.5"/><line x1="201.24" y1="50.98" x2="197.23" y2="53.45" stroke="#dcb48a" stroke-width="0.5"/><line x1="213.28" y1="43.55" x2="213.79" y2="39.79" stroke="#dcb48a" stroke-width="0.5"/><line x1="172.45" y1="30.20" x2="168.44" y2="32.67" stroke="#dcb48a" stroke-width="0.5"/><line x1="203.79" y1="40.17" x2="204.61" y2="44.62" stroke="#dcb48a" stroke-width="0.5"/><line x1="188.50" y1="20.30" x2="184.49" y2="22.78" stroke="#dcb48a" stroke-width="0.5"/><line x1="188.50" y1="20.30" x2="188.59" y2="24.23" stroke="#dcb48a" stroke-width="0.5"/><line x1="180.47" y1="25.25" x2="184.66" y2="28.26" stroke="#dcb48a" stroke-width="0.5"/><line x1="180.81" y1="45.26" x2="180.54" y2="49.47" stroke="#dcb48a" stroke-width="0.5"/><line x1="176.46" y1="27.73" x2="172.45" y2="30.20" stroke="#dcb48a" stroke-width="0.5"/><line x1="196.70" y1="24.88" x2="192.09" y2="26.68" stroke="#dcb48a" stroke-width="0.5"/><line x1="205.25" y1="48.50" x2="204.61" y2="44.62" stroke="#dcb48a" stroke-width="0.5"/><line x1="191.62" y1="48.23" x2="195.45" y2="46.08" stroke="#dcb48a" stroke-width="0.5"/><line x1="164.60" y1="44.67" x2="166.28" y2="39.76" stroke="#dcb48a" stroke-width="0.5"/><line x1="217.20" y1="36.31" x2="213.79" y2="39.79" stroke="#dcb48a" stroke-width="0.5"/><line x1="188.45" y1="28.40" x2="184.66" y2="28.26" stroke="#dcb48a" stroke-width="0.5"/><line x1="213.10" y1="34.03" x2="217.20" y2="36.31" stroke="#dcb48a" stroke-width="0.5"/><line x1="179.02" y1="37.76" x2="183.41" y2="35.61" stroke="#dcb48a" stroke-width="0.5"/><line x1="197.23" y1="53.45" x2="194.94" y2="49.85" stroke="#dcb48a" stroke-width="0.5"/><line x1="179.02" y1="37.76" x2="175.16" y2="38.19" stroke="#dcb48a" stroke-width="0.5"/><line x1="175.12" y1="42.48" x2="171.52" y2="43.13" stroke="#dcb48a" stroke-width="0.5"/><line x1="179.88" y1="29.79" x2="178.06" y2="33.65" stroke="#dcb48a" stroke-width="0.5"/><line x1="181.00" y1="53.83" x2="185.10" y2="56.11" stroke="#dcb48a" stroke-width="0.5"/><line x1="213.28" y1="43.55" x2="208.22" y2="42.57" stroke="#dcb48a" stroke-width="0.5"/><line x1="196.82" y1="40.81" x2="194.28" y2="37.67" stroke="#dcb48a" stroke-width="0.5"/><line x1="188.45" y1="28.40" x2="192.09" y2="26.68" stroke="#dcb48a" stroke-width="0.5"/><line x1="176.90" y1="51.54" x2="181.00" y2="53.83" stroke="#dcb48a" stroke-width="0.5"/><line x1="185.10" y1="56.11" x2="189.52" y2="54.25" stroke="#dcb48a" stroke-width="0.5"/><line x1="184.49" y1="22.78" x2="188.59" y2="24.23" stroke="#dcb48a" stroke-width="0.5"/><line x1="175.36" y1="46.52" x2="171.52" y2="43.13" stroke="#dcb48a" stroke-width="0.5"/><line x1="195.97" y1="33.77" x2="194.28" y2="37.67" stroke="#dcb48a" stroke-width="0.5"/><line x1="175.12" y1="42.48" x2="175.36" y2="46.52" stroke="#dcb48a" stroke-width="0.5"/><line x1="217.29" y1="41.08" x2="213.79" y2="39.79" stroke="#dcb48a" stroke-width="0.5"/><line x1="168.44" y1="32.67" x2="172.54" y2="34.84" stroke="#dcb48a" stroke-width="0.5"/><line x1="164.43" y1="35.15" x2="160.41" y2="37.62" stroke="#dcb48a" stroke-width="0.5"/><line x1="221.30" y1="38.60" x2="217.20" y2="36.31" stroke="#dcb48a" stroke-width="0.5"/><line x1="199.92" y1="44.80" x2="195.45" y2="46.08" stroke="#dcb48a" stroke-width="0.5"/><line x1="189.91" y1="36.99" x2="185.48" y2="38.55" stroke="#dcb48a" stroke-width="0.5"/><line x1="192.60" y1="22.59" x2="192.09" y2="26.68" stroke="#dcb48a" stroke-width="0.5"/><line x1="217.29" y1="41.08" x2="217.20" y2="36.31" stroke="#dcb48a" stroke-width="0.5"/><line x1="168.44" y1="32.67" x2="164.43" y2="35.15" stroke="#dcb48a" stroke-width="0.5"/><line x1="209.26" y1="46.03" x2="204.61" y2="44.62" stroke="#dcb48a" stroke-width="0.5"/><line x1="175.16" y1="38.19" x2="178.06" y2="33.65" stroke="#dcb48a" stroke-width="0.5"/><line x1="183.41" y1="35.61" x2="184.27" y2="31.94" stroke="#dcb48a" stroke-width="0.5"/><line x1="179.02" y1="37.76" x2="182.10" y2="41.24" stroke="#dcb48a" stroke-width="0.5"/><line x1="209.00" y1="31.74" x2="204.69" y2="34.11" stroke="#dcb48a" stroke-width="0.5"/><line x1="191.62" y1="48.23" x2="191.17" y2="43.69" stroke="#dcb48a" stroke-width="0.5"/><line x1="170.69" y1="38.86" x2="171.52" y2="43.13" stroke="#dcb48a" stroke-width="0.5"/><line x1="189.91" y1="36.99" x2="194.28" y2="37.67" stroke="#dcb48a" stroke-width="0.5"/><line x1="188.45" y1="28.40" x2="188.59" y2="24.23" stroke="#dcb48a" stroke-width="0.5"/><line x1="184.49" y1="22.78" x2="180.47" y2="25.25" stroke="#dcb48a" stroke-width="0.5"/><line x1="180.47" y1="25.25" x2="179.88" y2="29.79" stroke="#dcb48a" stroke-width="0.5"/><line x1="180.81" y1="45.26" x2="182.10" y2="41.24" stroke="#dcb48a" stroke-width="0.5"/><line x1="175.12" y1="42.48" x2="175.16" y2="38.19" stroke="#dcb48a" stroke-width="0.5"/><line x1="160.50" y1="42.39" x2="160.41" y2="37.62" stroke="#dcb48a" stroke-width="0.5"/><line x1="176.46" y1="27.73" x2="179.88" y2="29.79" stroke="#dcb48a" stroke-width="0.5"/><line x1="170.69" y1="38.86" x2="166.28" y2="39.76" stroke="#dcb48a" stroke-width="0.5"/><line x1="179.88" y1="29.79" x2="184.27" y2="31.94" stroke="#dcb48a" stroke-width="0.5"/><line x1="196.82" y1="40.81" x2="199.70" y2="36.35" stroke="#dcb48a" stroke-width="0.5"/><line x1="204.69" y1="34.11" x2="201.16" y2="32.41" stroke="#dcb48a" stroke-width="0.5"/><line x1="172.45" y1="30.20" x2="172.54" y2="34.84" stroke="#dcb48a" stroke-width="0.5"/><line x1="191.17" y1="43.69" x2="195.45" y2="46.08" stroke="#dcb48a" stroke-width="0.5"/><line x1="192.60" y1="22.59" x2="188.59" y2="24.23" stroke="#dcb48a" stroke-width="0.5"/><line x1="195.97" y1="33.77" x2="199.70" y2="36.35" stroke="#dcb48a" stroke-width="0.5"/><line x1="183.41" y1="35.61" x2="185.48" y2="38.55" stroke="#dcb48a" stroke-width="0.5"/><line x1="221.30" y1="38.60" x2="217.29" y2="41.08" stroke="#dcb48a" stroke-width="0.5"/><line x1="194.94" y1="49.85" x2="195.45" y2="46.08" stroke="#dcb48a" stroke-width="0.5"/><line x1="193.21" y1="55.92" x2="189.20" y2="58.40" stroke="#dcb48a" stroke-width="0.5"/><line x1="196.70" y1="24.88" x2="200.80" y2="27.16" stroke="#dcb48a" stroke-width="0.5"/><line x1="170.69" y1="38.86" x2="172.54" y2="34.84" stroke="#dcb48a" stroke-width="0.5"/><line x1="184.27" y1="31.94" x2="184.66" y2="28.26" stroke="#dcb48a" stroke-width="0.5"/><line x1="187.91" y1="41.61" x2="185.48" y2="38.55" stroke="#dcb48a" stroke-width="0.5"/><line x1="182.10" y1="41.24" x2="185.48" y2="38.55" stroke="#dcb48a" stroke-width="0.5"/><line x1="192.60" y1="22.59" x2="196.70" y2="24.88" stroke="#dcb48a" stroke-width="0.5"/><line x1="204.90" y1="29.45" x2="204.69" y2="34.11" stroke="#dcb48a" stroke-width="0.5"/><line x1="181.00" y1="53.83" x2="180.54" y2="49.47" stroke="#dcb48a" stroke-width="0.5"/><line x1="204.90" y1="29.45" x2="201.16" y2="32.41" stroke="#dcb48a" stroke-width="0.5"/><line x1="170.69" y1="38.86" x2="175.16" y2="38.19" stroke="#dcb48a" stroke-width="0.5"/><line x1="189.20" y1="58.40" x2="189.52" y2="54.25" stroke="#dcb48a" stroke-width="0.5"/><line x1="160.50" y1="42.39" x2="164.60" y2="44.67" stroke="#dcb48a" stroke-width="0.5"/><line x1="209.26" y1="46.03" x2="205.25" y2="48.50" stroke="#dcb48a" stroke-width="0.5"/><line x1="199.92" y1="44.80" x2="204.61" y2="44.62" stroke="#dcb48a" stroke-width="0.5"/><line x1="185.97" y1="50.75" x2="189.52" y2="54.25" stroke="#dcb48a" stroke-width="0.5"/><line x1="213.28" y1="43.55" x2="209.26" y2="46.03" stroke="#dcb48a" stroke-width="0.5"/><line x1="192.09" y1="26.68" x2="188.59" y2="24.23" stroke="#dcb48a" stroke-width="0.5"/><line x1="188.45" y1="28.40" x2="189.63" y2="32.62" stroke="#dcb48a" stroke-width="0.5"/><line x1="179.02" y1="37.76" x2="178.06" y2="33.65" stroke="#dcb48a" stroke-width="0.5"/><line x1="217.29" y1="41.08" x2="213.28" y2="43.55" stroke="#dcb48a" stroke-width="0.5"/><line x1="191.62" y1="48.23" x2="194.94" y2="49.85" stroke="#dcb48a" stroke-width="0.5"/><line x1="175.16" y1="38.19" x2="172.54" y2="34.84" stroke="#dcb48a" stroke-width="0.5"/><line x1="156.40" y1="40.10" x2="160.50" y2="42.39" stroke="#dcb48a" stroke-width="0.5"/><line x1="172.80" y1="49.25" x2="175.36" y2="46.52" stroke="#dcb48a" stroke-width="0.5"/><line x1="185.10" y1="56.11" x2="189.20" y2="58.40" stroke="#dcb48a" stroke-width="0.5"/><line x1="200.80" y1="27.16" x2="204.90" y2="29.45" stroke="#dcb48a" stroke-width="0.5"/><line x1="187.91" y1="41.61" x2="189.91" y2="36.99" stroke="#dcb48a" stroke-width="0.5"/><line x1="176.90" y1="51.54" x2="180.54" y2="49.47" stroke="#dcb48a" stroke-width="0.5"/><line x1="176.90" y1="51.54" x2="175.36" y2="46.52" stroke="#dcb48a" stroke-width="0.5"/><line x1="195.97" y1="33.77" x2="195.02" y2="30.20" stroke="#dcb48a" stroke-width="0.5"/><line x1="208.49" y1="37.47" x2="204.69" y2="34.11" stroke="#dcb48a" stroke-width="0.5"/><line x1="168.70" y1="46.96" x2="172.80" y2="49.25" stroke="#dcb48a" stroke-width="0.5"/><line x1="164.60" y1="44.67" x2="168.70" y2="46.96" stroke="#dcb48a" stroke-width="0.5"/><line x1="200.80" y1="27.16" x2="201.16" y2="32.41" stroke="#dcb48a" stroke-width="0.5"/><line x1="208.22" y1="42.57" x2="204.61" y2="44.62" stroke="#dcb48a" stroke-width="0.5"/><line x1="205.25" y1="48.50" x2="201.24" y2="50.98" stroke="#dcb48a" stroke-width="0.5"/><line x1="208.49" y1="37.47" x2="208.22" y2="42.57" stroke="#dcb48a" stroke-width="0.5"/><line x1="168.70" y1="46.96" x2="171.52" y2="43.13" stroke="#dcb48a" stroke-width="0.5"/><line x1="180.47" y1="25.25" x2="176.46" y2="27.73" stroke="#dcb48a" stroke-width="0.5"/><line x1="209.00" y1="31.74" x2="213.10" y2="34.03" stroke="#dcb48a" stroke-width="0.5"/><line x1="187.91" y1="41.61" x2="191.17" y2="43.69" stroke="#dcb48a" stroke-width="0.5"/><line x1="195.02" y1="30.20" x2="192.09" y2="26.68" stroke="#dcb48a" stroke-width="0.5"/><line x1="204.90" y1="29.45" x2="209.00" y2="31.74" stroke="#dcb48a" stroke-width="0.5"/><line x1="156.40" y1="40.10" x2="160.41" y2="37.62" stroke="#dcb48a" stroke-width="0.5"/><line x1="199.70" y1="36.35" x2="201.16" y2="32.41" stroke="#dcb48a" stroke-width="0.5"/><line x1="185.12" y1="46.39" x2="185.97" y2="50.75" stroke="#dcb48a" stroke-width="0.5"/><line x1="189.63" y1="32.62" x2="189.91" y2="36.99" stroke="#dcb48a" stroke-width="0.5"/><line x1="199.92" y1="44.80" x2="196.82" y2="40.81" stroke="#dcb48a" stroke-width="0.5"/><line x1="164.43" y1="35.15" x2="166.28" y2="39.76" stroke="#dcb48a" stroke-width="0.5"/><line x1="193.21" y1="55.92" x2="189.52" y2="54.25" stroke="#dcb48a" stroke-width="0.5"/><line x1="188.50" y1="20.30" x2="192.60" y2="22.59" stroke="#dcb48a" stroke-width="0.5"/><line x1="208.22" y1="42.57" x2="203.79" y2="40.17" stroke="#dcb48a" stroke-width="0.5"/><line x1="209.26" y1="46.03" x2="208.22" y2="42.57" stroke="#dcb48a" stroke-width="0.5"/><circle cx="188.50" cy="20.30" r="0.95" fill="#d7a571" /><circle cx="156.40" cy="40.10" r="0.95" fill="#d7a571" /><circle cx="221.30" cy="38.60" r="0.95" fill="#d7a571" /><circle cx="192.60" cy="22.59" r="0.95" fill="#d7a571" /><circle cx="160.50" cy="42.39" r="0.95" fill="#d7a571" /><circle cx="184.49" cy="22.78" r="0.95" fill="#d7a571" /><circle cx="217.29" cy="41.08" r="0.95" fill="#d7a571" /><circle cx="196.70" cy="24.88" r="0.95" fill="#d7a571" /><circle cx="164.60" cy="44.67" r="0.95" fill="#d7a571" /><circle cx="180.47" cy="25.25" r="0.95" fill="#d7a571" /><circle cx="213.28" cy="43.55" r="0.95" fill="#d7a571" /><circle cx="200.80" cy="27.16" r="0.95" fill="#d7a571" /><circle cx="168.70" cy="46.96" r="0.95" fill="#d7a571" /><circle cx="176.46" cy="27.73" r="0.95" fill="#d7a571" /><circle cx="209.26" cy="46.03" r="0.95" fill="#d7a571" /><circle cx="204.90" cy="29.45" r="0.95" fill="#d7a571" /><circle cx="172.80" cy="49.25" r="0.95" fill="#d7a571" /><circle cx="172.45" cy="30.20" r="0.95" fill="#d7a571" /><circle cx="205.25" cy="48.50" r="0.95" fill="#d7a571" /><circle cx="209.00" cy="31.74" r="0.95" fill="#d7a571" /><circle cx="176.90" cy="51.54" r="0.95" fill="#d7a571" /><circle cx="168.44" cy="32.67" r="0.95" fill="#d7a571" /><circle cx="201.24" cy="50.98" r="0.95" fill="#d7a571" /><circle cx="213.10" cy="34.03" r="0.95" fill="#d7a571" /><circle cx="181.00" cy="53.83" r="0.95" fill="#d7a571" /><circle cx="164.43" cy="35.15" r="0.95" fill="#d7a571" /><circle cx="197.23" cy="53.45" r="0.95" fill="#d7a571" /><circle cx="217.20" cy="36.31" r="0.95" fill="#d7a571" /><circle cx="185.10" cy="56.11" r="0.95" fill="#d7a571" /><circle cx="160.41" cy="37.62" r="0.95" fill="#d7a571" /><circle cx="193.21" cy="55.92" r="0.95" fill="#d7a571" /><circle cx="189.20" cy="58.40" r="0.95" fill="#d7a571" /><circle cx="185.12" cy="46.39" r="0.95" fill="#d7a571" /><circle cx="195.97" cy="33.77" r="0.95" fill="#d7a571" /><circle cx="187.91" cy="41.61" r="0.95" fill="#d7a571" /><circle cx="208.49" cy="37.47" r="0.95" fill="#d7a571" /><circle cx="204.69" cy="34.11" r="0.95" fill="#d7a571" /><circle cx="188.45" cy="28.40" r="0.95" fill="#d7a571" /><circle cx="208.22" cy="42.57" r="0.95" fill="#d7a571" /><circle cx="195.02" cy="30.20" r="0.95" fill="#d7a571" /><circle cx="179.02" cy="37.76" r="0.95" fill="#d7a571" /><circle cx="189.63" cy="32.62" r="0.95" fill="#d7a571" /><circle cx="199.92" cy="44.80" r="0.95" fill="#d7a571" /><circle cx="183.41" cy="35.61" r="0.95" fill="#d7a571" /><circle cx="185.97" cy="50.75" r="0.95" fill="#d7a571" /><circle cx="170.69" cy="38.86" r="0.95" fill="#d7a571" /><circle cx="180.81" cy="45.26" r="0.95" fill="#d7a571" /><circle cx="189.91" cy="36.99" r="0.95" fill="#d7a571" /><circle cx="166.28" cy="39.76" r="0.95" fill="#d7a571" /><circle cx="175.12" cy="42.48" r="0.95" fill="#d7a571" /><circle cx="191.62" cy="48.23" r="0.95" fill="#d7a571" /><circle cx="191.17" cy="43.69" r="0.95" fill="#d7a571" /><circle cx="175.16" cy="38.19" r="0.95" fill="#d7a571" /><circle cx="194.94" cy="49.85" r="0.95" fill="#d7a571" /><circle cx="195.45" cy="46.08" r="0.95" fill="#d7a571" /><circle cx="196.82" cy="40.81" r="0.95" fill="#d7a571" /><circle cx="182.10" cy="41.24" r="0.95" fill="#d7a571" /><circle cx="180.54" cy="49.47" r="0.95" fill="#d7a571" /><circle cx="199.70" cy="36.35" r="0.95" fill="#d7a571" /><circle cx="172.54" cy="34.84" r="0.95" fill="#d7a571" /><circle cx="203.79" cy="40.17" r="0.95" fill="#d7a571" /><circle cx="213.79" cy="39.79" r="0.95" fill="#d7a571" /><circle cx="179.88" cy="29.79" r="0.95" fill="#d7a571" /><circle cx="201.16" cy="32.41" r="0.95" fill="#d7a571" /><circle cx="184.27" cy="31.94" r="0.95" fill="#d7a571" /><circle cx="192.09" cy="26.68" r="0.95" fill="#d7a571" /><circle cx="175.36" cy="46.52" r="0.95" fill="#d7a571" /><circle cx="178.06" cy="33.65" r="0.95" fill="#d7a571" /><circle cx="185.48" cy="38.55" r="0.95" fill="#d7a571" /><circle cx="188.59" cy="24.23" r="0.95" fill="#d7a571" /><circle cx="194.28" cy="37.67" r="0.95" fill="#d7a571" /><circle cx="189.52" cy="54.25" r="0.95" fill="#d7a571" /><circle cx="184.66" cy="28.26" r="0.95" fill="#d7a571" /><circle cx="171.52" cy="43.13" r="0.95" fill="#d7a571" /><circle cx="204.61" cy="44.62" r="0.95" fill="#d7a571" /><line x1="99.00" y1="138.9" x2="102.20" y2="138.9" stroke="#808080" stroke-width="5.0" stroke-linecap="round"/><line x1="89.00" y1="144.3" x2="112.20" y2="144.3" stroke="#808080" stroke-width="5.0" stroke-linecap="round"/><line x1="79.10" y1="149.8" x2="122.10" y2="149.8" stroke="#808080" stroke-width="5.0" stroke-linecap="round"/><line x1="69.60" y1="155.2" x2="131.60" y2="155.2" stroke="#808080" stroke-width="5.0" stroke-linecap="round"/><line x1="79.10" y1="160.7" x2="122.10" y2="160.7" stroke="#808080" stroke-width="5.0" stroke-linecap="round"/><line x1="89.00" y1="166.1" x2="112.20" y2="166.1" stroke="#808080" stroke-width="5.0" stroke-linecap="round"/><line x1="99.00" y1="171.5" x2="102.20" y2="171.5" stroke="#808080" stroke-width="5.0" stroke-linecap="round"/><circle cx="100.20" cy="138.50" r="0.55" fill="#c8c8c8" /><circle cx="100.60" cy="138.00" r="1.65" fill="#f1c28f" /><circle cx="100.60" cy="140.20" r="1.0" fill="#e3b387" /><circle cx="90.20" cy="143.90" r="0.55" fill="#c8c8c8" /><circle cx="92.60" cy="143.90" r="0.55" fill="#c8c8c8" /><circle cx="95.00" cy="143.90" r="0.55" fill="#c8c8c8" /><circle cx="97.40" cy="143.90" r="0.55" fill="#c8c8c8" /><circle cx="99.80" cy="143.90" r="0.55" fill="#c8c8c8" /><circle cx="102.20" cy="143.90" r="0.55" fill="#c8c8c8" /><circle cx="104.60" cy="143.90" r="0.55" fill="#c8c8c8" /><circle cx="107.00" cy="143.90" r="0.55" fill="#c8c8c8" /><circle cx="109.40" cy="143.90" r="0.55" fill="#c8c8c8" /><circle cx="90.85" cy="143.40" r="1.65" fill="#f1c28f" /><circle cx="90.85" cy="145.60" r="1.0" fill="#e3b387" /><circle cx="100.60" cy="143.40" r="1.65" fill="#f1c28f" /><circle cx="100.60" cy="145.60" r="1.0" fill="#e3b387" /><circle cx="110.35" cy="143.40" r="1.65" fill="#f1c28f" /><circle cx="110.35" cy="145.60" r="1.0" fill="#e3b387" /><circle cx="80.30" cy="149.40" r="0.55" fill="#c8c8c8" /><circle cx="82.70" cy="149.40" r="0.55" fill="#c8c8c8" /><circle cx="85.10" cy="149.40" r="0.55" fill="#c8c8c8" /><circle cx="87.50" cy="149.40" r="0.55" fill="#c8c8c8" /><circle cx="89.90" cy="149.40" r="0.55" fill="#c8c8c8" /><circle cx="92.30" cy="149.40" r="0.55" fill="#c8c8c8" /><circle cx="94.70" cy="149.40" r="0.55" fill="#c8c8c8" /><circle cx="97.10" cy="149.40" r="0.55" fill="#c8c8c8" /><circle cx="99.50" cy="149.40" r="0.55" fill="#c8c8c8" /><circle cx="101.90" cy="149.40" r="0.55" fill="#c8c8c8" /><circle cx="104.30" cy="149.40" r="0.55" fill="#c8c8c8" /><circle cx="106.70" cy="149.40" r="0.55" fill="#c8c8c8" /><circle cx="109.10" cy="149.40" r="0.55" fill="#c8c8c8" /><circle cx="111.50" cy="149.40" r="0.55" fill="#c8c8c8" /><circle cx="113.90" cy="149.40" r="0.55" fill="#c8c8c8" /><circle cx="116.30" cy="149.40" r="0.55" fill="#c8c8c8" /><circle cx="118.70" cy="149.40" r="0.55" fill="#c8c8c8" /><circle cx="81.10" cy="148.90" r="1.65" fill="#f1c28f" /><circle cx="81.10" cy="151.10" r="1.0" fill="#e3b387" /><circle cx="90.85" cy="148.90" r="1.65" fill="#f1c28f" /><circle cx="90.85" cy="151.10" r="1.0" fill="#e3b387" /><circle cx="100.60" cy="148.90" r="1.65" fill="#f1c28f" /><circle cx="100.60" cy="151.10" r="1.0" fill="#e3b387" /><circle cx="110.35" cy="148.90" r="1.65" fill="#f1c28f" /><circle cx="110.35" cy="151.10" r="1.0" fill="#e3b387" /><circle cx="120.10" cy="148.90" r="1.65" fill="#f1c28f" /><circle cx="120.10" cy="151.10" r="1.0" fill="#e3b387" /><circle cx="70.80" cy="154.80" r="0.55" fill="#c8c8c8" /><circle cx="73.20" cy="154.80" r="0.55" fill="#c8c8c8" /><circle cx="75.60" cy="154.80" r="0.55" fill="#c8c8c8" /><circle cx="78.00" cy="154.80" r="0.55" fill="#c8c8c8" /><circle cx="80.40" cy="154.80" r="0.55" fill="#c8c8c8" /><circle cx="82.80" cy="154.80" r="0.55" fill="#c8c8c8" /><circle cx="85.20" cy="154.80" r="0.55" fill="#c8c8c8" /><circle cx="87.60" cy="154.80" r="0.55" fill="#c8c8c8" /><circle cx="90.00" cy="154.80" r="0.55" fill="#c8c8c8" /><circle cx="92.40" cy="154.80" r="0.55" fill="#c8c8c8" /><circle cx="94.80" cy="154.80" r="0.55" fill="#c8c8c8" /><circle cx="97.20" cy="154.80" r="0.55" fill="#c8c8c8" /><circle cx="99.60" cy="154.80" r="0.55" fill="#c8c8c8" /><circle cx="102.00" cy="154.80" r="0.55" fill="#c8c8c8" /><circle cx="104.40" cy="154.80" r="0.55" fill="#c8c8c8" /><circle cx="106.80" cy="154.80" r="0.55" fill="#c8c8c8" /><circle cx="109.20" cy="154.80" r="0.55" fill="#c8c8c8" /><circle cx="111.60" cy="154.80" r="0.55" fill="#c8c8c8" /><circle cx="114.00" cy="154.80" r="0.55" fill="#c8c8c8" /><circle cx="116.40" cy="154.80" r="0.55" fill="#c8c8c8" /><circle cx="118.80" cy="154.80" r="0.55" fill="#c8c8c8" /><circle cx="121.20" cy="154.80" r="0.55" fill="#c8c8c8" /><circle cx="123.60" cy="154.80" r="0.55" fill="#c8c8c8" /><circle cx="126.00" cy="154.80" r="0.55" fill="#c8c8c8" /><circle cx="128.40" cy="154.80" r="0.55" fill="#c8c8c8" /><circle cx="71.35" cy="154.30" r="1.65" fill="#f1c28f" /><circle cx="71.35" cy="156.50" r="1.0" fill="#e3b387" /><circle cx="81.10" cy="154.30" r="1.65" fill="#f1c28f" /><circle cx="81.10" cy="156.50" r="1.0" fill="#e3b387" /><circle cx="90.85" cy="154.30" r="1.65" fill="#f1c28f" /><circle cx="90.85" cy="156.50" r="1.0" fill="#e3b387" /><circle cx="100.60" cy="154.30" r="1.65" fill="#f1c28f" /><circle cx="100.60" cy="156.50" r="1.0" fill="#e3b387" /><circle cx="110.35" cy="154.30" r="1.65" fill="#f1c28f" /><circle cx="110.35" cy="156.50" r="1.0" fill="#e3b387" /><circle cx="120.10" cy="154.30" r="1.65" fill="#f1c28f" /><circle cx="120.10" cy="156.50" r="1.0" fill="#e3b387" /><circle cx="129.85" cy="154.30" r="1.65" fill="#f1c28f" /><circle cx="129.85" cy="156.50" r="1.0" fill="#e3b387" /><circle cx="80.30" cy="160.30" r="0.55" fill="#c8c8c8" /><circle cx="82.70" cy="160.30" r="0.55" fill="#c8c8c8" /><circle cx="85.10" cy="160.30" r="0.55" fill="#c8c8c8" /><circle cx="87.50" cy="160.30" r="0.55" fill="#c8c8c8" /><circle cx="89.90" cy="160.30" r="0.55" fill="#c8c8c8" /><circle cx="92.30" cy="160.30" r="0.55" fill="#c8c8c8" /><circle cx="94.70" cy="160.30" r="0.55" fill="#c8c8c8" /><circle cx="97.10" cy="160.30" r="0.55" fill="#c8c8c8" /><circle cx="99.50" cy="160.30" r="0.55" fill="#c8c8c8" /><circle cx="101.90" cy="160.30" r="0.55" fill="#c8c8c8" /><circle cx="104.30" cy="160.30" r="0.55" fill="#c8c8c8" /><circle cx="106.70" cy="160.30" r="0.55" fill="#c8c8c8" /><circle cx="109.10" cy="160.30" r="0.55" fill="#c8c8c8" /><circle cx="111.50" cy="160.30" r="0.55" fill="#c8c8c8" /><circle cx="113.90" cy="160.30" r="0.55" fill="#c8c8c8" /><circle cx="116.30" cy="160.30" r="0.55" fill="#c8c8c8" /><circle cx="118.70" cy="160.30" r="0.55" fill="#c8c8c8" /><circle cx="81.10" cy="159.80" r="1.65" fill="#f1c28f" /><circle cx="81.10" cy="162.00" r="1.0" fill="#e3b387" /><circle cx="90.85" cy="159.80" r="1.65" fill="#f1c28f" /><circle cx="90.85" cy="162.00" r="1.0" fill="#e3b387" /><circle cx="100.60" cy="159.80" r="1.65" fill="#f1c28f" /><circle cx="100.60" cy="162.00" r="1.0" fill="#e3b387" /><circle cx="110.35" cy="159.80" r="1.65" fill="#f1c28f" /><circle cx="110.35" cy="162.00" r="1.0" fill="#e3b387" /><circle cx="120.10" cy="159.80" r="1.65" fill="#f1c28f" /><circle cx="120.10" cy="162.00" r="1.0" fill="#e3b387" /><circle cx="90.20" cy="165.70" r="0.55" fill="#c8c8c8" /><circle cx="92.60" cy="165.70" r="0.55" fill="#c8c8c8" /><circle cx="95.00" cy="165.70" r="0.55" fill="#c8c8c8" /><circle cx="97.40" cy="165.70" r="0.55" fill="#c8c8c8" /><circle cx="99.80" cy="165.70" r="0.55" fill="#c8c8c8" /><circle cx="102.20" cy="165.70" r="0.55" fill="#c8c8c8" /><circle cx="104.60" cy="165.70" r="0.55" fill="#c8c8c8" /><circle cx="107.00" cy="165.70" r="0.55" fill="#c8c8c8" /><circle cx="109.40" cy="165.70" r="0.55" fill="#c8c8c8" /><circle cx="90.85" cy="165.20" r="1.65" fill="#f1c28f" /><circle cx="90.85" cy="167.40" r="1.0" fill="#e3b387" /><circle cx="100.60" cy="165.20" r="1.65" fill="#f1c28f" /><circle cx="100.60" cy="167.40" r="1.0" fill="#e3b387" /><circle cx="110.35" cy="165.20" r="1.65" fill="#f1c28f" /><circle cx="110.35" cy="167.40" r="1.0" fill="#e3b387" /><circle cx="100.20" cy="171.10" r="0.55" fill="#c8c8c8" /><circle cx="100.60" cy="170.60" r="1.65" fill="#f1c28f" /><circle cx="100.60" cy="172.80" r="1.0" fill="#e3b387" /><circle cx="119.80" cy="234.04" r="2.4" fill="#7d7d7d" /><circle cx="124.27" cy="237.02" r="2.4" fill="#7d7d7d" /><circle cx="128.74" cy="240.00" r="2.4" fill="#7d7d7d" /><circle cx="133.21" cy="242.98" r="2.4" fill="#7d7d7d" /><circle cx="137.68" cy="245.96" r="2.4" fill="#7d7d7d" /><circle cx="142.15" cy="248.94" r="2.4" fill="#7d7d7d" /><circle cx="129.73" cy="228.74" r="2.4" fill="#7d7d7d" /><circle cx="134.20" cy="231.72" r="2.4" fill="#7d7d7d" /><circle cx="138.67" cy="234.70" r="2.4" fill="#7d7d7d" /><circle cx="143.14" cy="237.68" r="2.4" fill="#7d7d7d" /><circle cx="147.61" cy="240.66" r="2.4" fill="#7d7d7d" /><circle cx="152.08" cy="243.64" r="2.4" fill="#7d7d7d" /><circle cx="139.66" cy="223.44" r="2.4" fill="#7d7d7d" /><circle cx="144.13" cy="226.42" r="2.4" fill="#7d7d7d" /><circle cx="148.60" cy="229.40" r="2.4" fill="#7d7d7d" /><circle cx="153.07" cy="232.38" r="2.4" fill="#7d7d7d" /><circle cx="157.54" cy="235.36" r="2.4" fill="#7d7d7d" /><circle cx="162.01" cy="238.34" r="2.4" fill="#7d7d7d" /><circle cx="146.86" cy="222.28" r="2.4" fill="#7d7d7d" /><circle cx="155.80" cy="228.24" r="2.4" fill="#7d7d7d" /><circle cx="164.74" cy="234.20" r="2.4" fill="#7d7d7d" /><circle cx="111.50" cy="236.30" r="2.15" fill="#e4b584" /><circle cx="113.70" cy="234.10" r="2.15" fill="#efc393" /><circle cx="114.10" cy="233.60" r="0.7" fill="#f7dcbb" /><circle cx="115.97" cy="239.28" r="2.15" fill="#e4b584" /><circle cx="118.17" cy="237.08" r="2.15" fill="#efc393" /><circle cx="118.57" cy="236.58" r="0.7" fill="#f7dcbb" /><circle cx="120.44" cy="242.26" r="2.15" fill="#e4b584" /><circle cx="122.64" cy="240.06" r="2.15" fill="#efc393" /><circle cx="123.04" cy="239.56" r="0.7" fill="#f7dcbb" /><circle cx="124.91" cy="245.24" r="2.15" fill="#e4b584" /><circle cx="127.11" cy="243.04" r="2.15" fill="#efc393" /><circle cx="127.51" cy="242.54" r="0.7" fill="#f7dcbb" /><circle cx="129.38" cy="248.22" r="2.15" fill="#e4b584" /><circle cx="131.58" cy="246.02" r="2.15" fill="#efc393" /><circle cx="131.98" cy="245.52" r="0.7" fill="#f7dcbb" /><circle cx="133.85" cy="251.20" r="2.15" fill="#e4b584" /><circle cx="136.05" cy="249.00" r="2.15" fill="#efc393" /><circle cx="136.45" cy="248.50" r="0.7" fill="#f7dcbb" /><circle cx="138.32" cy="254.18" r="2.15" fill="#e4b584" /><circle cx="140.52" cy="251.98" r="2.15" fill="#efc393" /><circle cx="140.92" cy="251.48" r="0.7" fill="#f7dcbb" /><circle cx="121.43" cy="231.00" r="2.15" fill="#e4b584" /><circle cx="123.63" cy="228.80" r="2.15" fill="#efc393" /><circle cx="124.03" cy="228.30" r="0.7" fill="#f7dcbb" /><circle cx="125.90" cy="233.98" r="2.15" fill="#e4b584" /><circle cx="128.10" cy="231.78" r="2.15" fill="#efc393" /><circle cx="128.50" cy="231.28" r="0.7" fill="#f7dcbb" /><circle cx="130.37" cy="236.96" r="2.15" fill="#e4b584" /><circle cx="132.57" cy="234.76" r="2.15" fill="#efc393" /><circle cx="132.97" cy="234.26" r="0.7" fill="#f7dcbb" /><circle cx="134.84" cy="239.94" r="2.15" fill="#e4b584" /><circle cx="137.04" cy="237.74" r="2.15" fill="#efc393" /><circle cx="137.44" cy="237.24" r="0.7" fill="#f7dcbb" /><circle cx="139.31" cy="242.92" r="2.15" fill="#e4b584" /><circle cx="141.51" cy="240.72" r="2.15" fill="#efc393" /><circle cx="141.91" cy="240.22" r="0.7" fill="#f7dcbb" /><circle cx="143.78" cy="245.90" r="2.15" fill="#e4b584" /><circle cx="145.98" cy="243.70" r="2.15" fill="#efc393" /><circle cx="146.38" cy="243.20" r="0.7" fill="#f7dcbb" /><circle cx="148.25" cy="248.88" r="2.15" fill="#e4b584" /><circle cx="150.45" cy="246.68" r="2.15" fill="#efc393" /><circle cx="150.85" cy="246.18" r="0.7" fill="#f7dcbb" /><circle cx="131.36" cy="225.70" r="2.15" fill="#e4b584" /><circle cx="133.56" cy="223.50" r="2.15" fill="#efc393" /><circle cx="133.96" cy="223.00" r="0.7" fill="#f7dcbb" /><circle cx="135.83" cy="228.68" r="2.15" fill="#e4b584" /><circle cx="138.03" cy="226.48" r="2.15" fill="#efc393" /><circle cx="138.43" cy="225.98" r="0.7" fill="#f7dcbb" /><circle cx="140.30" cy="231.66" r="2.15" fill="#e4b584" /><circle cx="142.50" cy="229.46" r="2.15" fill="#efc393" /><circle cx="142.90" cy="228.96" r="0.7" fill="#f7dcbb" /><circle cx="144.77" cy="234.64" r="2.15" fill="#e4b584" /><circle cx="146.97" cy="232.44" r="2.15" fill="#efc393" /><circle cx="147.37" cy="231.94" r="0.7" fill="#f7dcbb" /><circle cx="149.24" cy="237.62" r="2.15" fill="#e4b584" /><circle cx="151.44" cy="235.42" r="2.15" fill="#efc393" /><circle cx="151.84" cy="234.92" r="0.7" fill="#f7dcbb" /><circle cx="153.71" cy="240.60" r="2.15" fill="#e4b584" /><circle cx="155.91" cy="238.40" r="2.15" fill="#efc393" /><circle cx="156.31" cy="237.90" r="0.7" fill="#f7dcbb" /><circle cx="158.18" cy="243.58" r="2.15" fill="#e4b584" /><circle cx="160.38" cy="241.38" r="2.15" fill="#efc393" /><circle cx="160.78" cy="240.88" r="0.7" fill="#f7dcbb" /><circle cx="141.29" cy="220.40" r="2.15" fill="#e4b584" /><circle cx="143.49" cy="218.20" r="2.15" fill="#efc393" /><circle cx="143.89" cy="217.70" r="0.7" fill="#f7dcbb" /><circle cx="150.23" cy="226.36" r="2.15" fill="#e4b584" /><circle cx="152.43" cy="224.16" r="2.15" fill="#efc393" /><circle cx="152.83" cy="223.66" r="0.7" fill="#f7dcbb" /><circle cx="159.17" cy="232.32" r="2.15" fill="#e4b584" /><circle cx="161.37" cy="230.12" r="2.15" fill="#efc393" /><circle cx="161.77" cy="229.62" r="0.7" fill="#f7dcbb" /><circle cx="168.11" cy="238.28" r="2.15" fill="#e4b584" /><circle cx="170.31" cy="236.08" r="2.15" fill="#efc393" /><circle cx="170.71" cy="235.58" r="0.7" fill="#f7dcbb" /><circle cx="294.90" cy="117.20" r="2.15" fill="#727272" /><circle cx="286.32" cy="123.07" r="2.15" fill="#727272" /><circle cx="292.12" cy="122.67" r="2.15" fill="#727272" /><circle cx="297.93" cy="122.26" r="2.15" fill="#727272" /><circle cx="303.73" cy="121.86" r="2.15" fill="#727272" /><circle cx="277.82" cy="128.76" r="2.15" fill="#727272" /><circle cx="283.63" cy="128.36" r="2.15" fill="#727272" /><circle cx="289.43" cy="127.96" r="2.15" fill="#727272" /><circle cx="295.24" cy="127.55" r="2.15" fill="#727272" /><circle cx="301.04" cy="127.15" r="2.15" fill="#727272" /><circle cx="306.85" cy="126.75" r="2.15" fill="#727272" /><circle cx="312.65" cy="126.35" r="2.15" fill="#727272" /><circle cx="269.50" cy="134.89" r="2.15" fill="#727272" /><circle cx="275.31" cy="134.49" r="2.15" fill="#727272" /><circle cx="281.11" cy="134.09" r="2.15" fill="#727272" /><circle cx="286.92" cy="133.68" r="2.15" fill="#727272" /><circle cx="292.73" cy="133.28" r="2.15" fill="#727272" /><circle cx="298.53" cy="132.88" r="2.15" fill="#727272" /><circle cx="304.34" cy="132.47" r="2.15" fill="#727272" /><circle cx="310.14" cy="132.07" r="2.15" fill="#727272" /><circle cx="315.95" cy="131.67" r="2.15" fill="#727272" /><circle cx="321.75" cy="131.27" r="2.15" fill="#727272" /><circle cx="278.70" cy="139.71" r="2.15" fill="#727272" /><circle cx="284.50" cy="139.30" r="2.15" fill="#727272" /><circle cx="290.31" cy="138.90" r="2.15" fill="#727272" /><circle cx="296.11" cy="138.50" r="2.15" fill="#727272" /><circle cx="301.92" cy="138.10" r="2.15" fill="#727272" /><circle cx="307.73" cy="137.69" r="2.15" fill="#727272" /><circle cx="313.53" cy="137.29" r="2.15" fill="#727272" /><circle cx="287.45" cy="144.09" r="2.15" fill="#727272" /><circle cx="293.26" cy="143.68" r="2.15" fill="#727272" /><circle cx="299.06" cy="143.28" r="2.15" fill="#727272" /><circle cx="304.87" cy="142.88" r="2.15" fill="#727272" /><circle cx="296.21" cy="148.90" r="2.15" fill="#727272" /><circle cx="270.80" cy="245.00" r="2.05" fill="#6e6e6e" /><circle cx="275.10" cy="242.38" r="2.05" fill="#6e6e6e" /><circle cx="279.40" cy="239.76" r="2.05" fill="#6e6e6e" /><circle cx="283.70" cy="237.14" r="2.05" fill="#6e6e6e" /><circle cx="288.00" cy="234.52" r="2.05" fill="#6e6e6e" /><circle cx="292.30" cy="231.90" r="2.05" fill="#6e6e6e" /><circle cx="296.60" cy="229.28" r="2.05" fill="#6e6e6e" /><circle cx="278.45" cy="247.95" r="2.05" fill="#6e6e6e" /><circle cx="279.45" cy="250.45" r="2.05" fill="#666" /><circle cx="282.75" cy="245.33" r="2.05" fill="#6e6e6e" /><circle cx="283.75" cy="247.83" r="2.05" fill="#666" /><circle cx="287.05" cy="242.71" r="2.05" fill="#6e6e6e" /><circle cx="288.05" cy="245.21" r="2.05" fill="#666" /><circle cx="291.35" cy="240.09" r="2.05" fill="#6e6e6e" /><circle cx="292.35" cy="242.59" r="2.05" fill="#666" /><circle cx="295.65" cy="237.47" r="2.05" fill="#6e6e6e" /><circle cx="296.65" cy="239.97" r="2.05" fill="#666" /><circle cx="299.95" cy="234.85" r="2.05" fill="#6e6e6e" /><circle cx="300.95" cy="237.35" r="2.05" fill="#666" /><circle cx="304.25" cy="232.23" r="2.05" fill="#6e6e6e" /><circle cx="305.25" cy="234.73" r="2.05" fill="#666" /><circle cx="286.60" cy="252.15" r="2.05" fill="#6e6e6e" /><circle cx="287.60" cy="254.65" r="2.05" fill="#666" /><circle cx="290.90" cy="249.53" r="2.05" fill="#6e6e6e" /><circle cx="291.90" cy="252.03" r="2.05" fill="#666" /><circle cx="295.20" cy="246.91" r="2.05" fill="#6e6e6e" /><circle cx="296.20" cy="249.41" r="2.05" fill="#666" /><circle cx="299.50" cy="244.29" r="2.05" fill="#6e6e6e" /><circle cx="300.50" cy="246.79" r="2.05" fill="#666" /><circle cx="303.80" cy="241.67" r="2.05" fill="#6e6e6e" /><circle cx="304.80" cy="244.17" r="2.05" fill="#666" /><circle cx="308.10" cy="239.05" r="2.05" fill="#6e6e6e" /><circle cx="309.10" cy="241.55" r="2.05" fill="#666" /><circle cx="312.40" cy="236.43" r="2.05" fill="#6e6e6e" /><circle cx="313.40" cy="238.93" r="2.05" fill="#666" /><circle cx="295.25" cy="257.60" r="2.05" fill="#6e6e6e" /><circle cx="299.55" cy="254.98" r="2.05" fill="#6e6e6e" /><circle cx="303.85" cy="252.36" r="2.05" fill="#6e6e6e" /><circle cx="308.15" cy="249.74" r="2.05" fill="#6e6e6e" /><circle cx="312.45" cy="247.12" r="2.05" fill="#6e6e6e" /><circle cx="316.75" cy="244.50" r="2.05" fill="#6e6e6e" /><circle cx="321.05" cy="241.88" r="2.05" fill="#6e6e6e" /><line x1="114.48" y1="370.81" x2="123.44" y2="370.28" stroke="#9fb3f0" stroke-width="0.9"/><line x1="138.19" y1="371.33" x2="147.68" y2="370.60" stroke="#9fb3f0" stroke-width="0.9"/><line x1="126.60" y1="385.56" x2="136.09" y2="385.03" stroke="#9fb3f0" stroke-width="0.9"/><line x1="114.48" y1="399.78" x2="123.97" y2="398.73" stroke="#9fb3f0" stroke-width="0.9"/><line x1="138.19" y1="400.31" x2="147.68" y2="399.26" stroke="#9fb3f0" stroke-width="0.9"/><line x1="116.59" y1="364.69" x2="117.12" y2="376.07" stroke="#f2c49a" stroke-width="0.6"/><line x1="121.33" y1="364.27" x2="121.33" y2="375.55" stroke="#f2c49a" stroke-width="0.6"/><line x1="140.30" y1="365.01" x2="140.83" y2="376.60" stroke="#f2c49a" stroke-width="0.6"/><line x1="145.04" y1="364.69" x2="145.57" y2="376.60" stroke="#f2c49a" stroke-width="0.6"/><line x1="116.06" y1="395.04" x2="114.48" y2="399.78" stroke="#f2c49a" stroke-width="0.6"/><line x1="119.75" y1="395.57" x2="119.23" y2="399.78" stroke="#f2c49a" stroke-width="0.6"/><line x1="140.30" y1="395.57" x2="138.19" y2="400.31" stroke="#f2c49a" stroke-width="0.6"/><line x1="144.52" y1="395.57" x2="142.93" y2="400.31" stroke="#f2c49a" stroke-width="0.6"/><line x1="128.18" y1="380.82" x2="128.71" y2="390.30" stroke="#f2c49a" stroke-width="0.6"/><line x1="133.45" y1="380.82" x2="133.45" y2="390.30" stroke="#f2c49a" stroke-width="0.6"/><line x1="113.43" y1="391.88" x2="116.06" y2="395.04" stroke="#f2c49a" stroke-width="0.6"/><line x1="120.81" y1="392.93" x2="119.75" y2="395.57" stroke="#f2c49a" stroke-width="0.6"/><line x1="140.83" y1="392.93" x2="140.30" y2="395.57" stroke="#f2c49a" stroke-width="0.6"/><line x1="145.04" y1="392.93" x2="144.52" y2="395.57" stroke="#f2c49a" stroke-width="0.6"/><rect x="125.55" y="372.79" width="10.54" height="3.4" rx="1.6" fill="#3c3c3c"/><rect x="113.17" y="387.23" width="10.01" height="3.4" rx="1.6" fill="#3c3c3c"/><rect x="138.46" y="387.76" width="10.01" height="3.4" rx="1.6" fill="#3c3c3c"/><circle cx="116.59" cy="364.69" r="1.5" fill="#e8761a" /><circle cx="121.33" cy="364.27" r="1.5" fill="#e8761a" /><circle cx="117.12" cy="376.07" r="1.5" fill="#e8761a" /><circle cx="121.33" cy="375.55" r="1.5" fill="#e8761a" /><circle cx="140.30" cy="365.01" r="1.5" fill="#e8761a" /><circle cx="145.04" cy="364.69" r="1.5" fill="#e8761a" /><circle cx="140.83" cy="376.60" r="1.5" fill="#e8761a" /><circle cx="145.57" cy="376.60" r="1.5" fill="#e8761a" /><circle cx="125.02" cy="370.81" r="1.5" fill="#e8761a" /><circle cx="129.24" cy="370.28" r="1.5" fill="#e8761a" /><circle cx="132.92" cy="370.81" r="1.5" fill="#e8761a" /><circle cx="136.61" cy="370.81" r="1.5" fill="#e8761a" /><circle cx="125.55" cy="377.66" r="1.5" fill="#e8761a" /><circle cx="128.71" cy="379.24" r="1.5" fill="#e8761a" /><circle cx="133.45" cy="378.71" r="1.5" fill="#e8761a" /><circle cx="136.61" cy="377.66" r="1.5" fill="#e8761a" /><circle cx="128.18" cy="380.82" r="1.5" fill="#e8761a" /><circle cx="133.45" cy="380.82" r="1.5" fill="#e8761a" /><circle cx="128.71" cy="390.30" r="1.5" fill="#e8761a" /><circle cx="133.45" cy="390.30" r="1.5" fill="#e8761a" /><circle cx="112.90" cy="385.03" r="1.5" fill="#e8761a" /><circle cx="116.59" cy="384.50" r="1.5" fill="#e8761a" /><circle cx="120.81" cy="385.03" r="1.5" fill="#e8761a" /><circle cx="123.97" cy="385.56" r="1.5" fill="#e8761a" /><circle cx="113.43" cy="391.88" r="1.5" fill="#e8761a" /><circle cx="117.64" cy="392.41" r="1.5" fill="#e8761a" /><circle cx="120.81" cy="392.93" r="1.5" fill="#e8761a" /><circle cx="124.49" cy="391.88" r="1.5" fill="#e8761a" /><circle cx="116.06" cy="395.04" r="1.5" fill="#e8761a" /><circle cx="119.75" cy="395.57" r="1.5" fill="#e8761a" /><circle cx="138.72" cy="385.56" r="1.5" fill="#e8761a" /><circle cx="141.88" cy="385.03" r="1.5" fill="#e8761a" /><circle cx="145.57" cy="385.56" r="1.5" fill="#e8761a" /><circle cx="149.26" cy="385.56" r="1.5" fill="#e8761a" /><circle cx="137.67" cy="392.41" r="1.5" fill="#e8761a" /><circle cx="140.83" cy="392.93" r="1.5" fill="#e8761a" /><circle cx="145.04" cy="392.93" r="1.5" fill="#e8761a" /><circle cx="148.73" cy="392.41" r="1.5" fill="#e8761a" /><circle cx="140.30" cy="395.57" r="1.5" fill="#e8761a" /><circle cx="144.52" cy="395.57" r="1.5" fill="#e8761a" /><circle cx="114.48" cy="370.81" r="1.6" fill="#1f4fd6" /><circle cx="119.23" cy="370.81" r="1.6" fill="#1f4fd6" /><circle cx="123.44" cy="370.28" r="1.6" fill="#1f4fd6" /><circle cx="138.19" cy="371.33" r="1.6" fill="#1f4fd6" /><circle cx="142.93" cy="370.81" r="1.6" fill="#1f4fd6" /><circle cx="147.68" cy="370.60" r="1.6" fill="#1f4fd6" /><circle cx="126.60" cy="385.56" r="1.6" fill="#1f4fd6" /><circle cx="131.34" cy="385.56" r="1.6" fill="#1f4fd6" /><circle cx="136.09" cy="385.03" r="1.6" fill="#1f4fd6" /><circle cx="114.48" cy="399.78" r="1.6" fill="#1f4fd6" /><circle cx="119.23" cy="399.78" r="1.6" fill="#1f4fd6" /><circle cx="123.97" cy="398.73" r="1.6" fill="#1f4fd6" /><circle cx="138.19" cy="400.31" r="1.6" fill="#1f4fd6" /><circle cx="142.93" cy="400.31" r="1.6" fill="#1f4fd6" /><circle cx="147.68" cy="399.26" r="1.6" fill="#1f4fd6" /></g></svg>
</body></html>
